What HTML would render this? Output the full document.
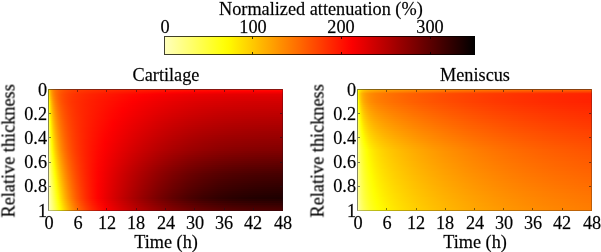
<!DOCTYPE html>
<html><head><meta charset="utf-8"><style>
html,body{margin:0;padding:0;background:#fff;}
body{width:601px;height:252px;position:relative;overflow:hidden;font-family:"Liberation Serif",serif;}
.tl{position:absolute;font-size:18.25px;line-height:21px;color:#000;white-space:nowrap;will-change:transform;-webkit-text-stroke:0.3px rgba(0,0,0,0.6)}
.hm{position:absolute;width:235px;height:122px;}
.bx{position:absolute;box-sizing:border-box;border:1px solid rgba(20,20,30,0.5);border-right-color:rgba(20,20,30,0.28);border-bottom-color:rgba(20,20,30,0.28);}
.cbx{border-color:rgba(0,0,0,0.75);}
.tk{position:absolute;background:rgba(20,20,30,0.55);}
.cbt{background:rgba(0,0,0,0.75);}
.ylab{transform:rotate(-90deg);}
</style></head><body>
<div class="hm" style="left:164px;top:36px;width:311px;height:19px;background:linear-gradient(90deg,#ffffbf 0.00%,#ffffab 2.08%,#ffff97 4.17%,#ffff83 6.25%,#ffff70 8.33%,#ffff5c 10.42%,#ffff48 12.50%,#ffff34 14.58%,#ffff20 16.67%,#ffff0c 18.75%,#fffa00 20.83%,#ffec00 22.92%,#ffdf00 25.00%,#ffd200 27.08%,#ffc500 29.17%,#ffb700 31.25%,#ffaa00 33.33%,#ff9d00 35.42%,#ff8f00 37.50%,#ff8200 39.58%,#ff7500 41.67%,#ff6800 43.75%,#ff5a00 45.83%,#ff4d00 47.92%,#ff4000 50.00%,#ff3200 52.08%,#ff2500 54.17%,#ff1800 56.25%,#ff0b00 58.33%,#fc0000 60.42%,#ef0000 62.50%,#e20000 64.58%,#d40000 66.67%,#c70000 68.75%,#ba0000 70.83%,#ad0000 72.92%,#9f0000 75.00%,#920000 77.08%,#850000 79.17%,#780000 81.25%,#6a0000 83.33%,#5d0000 85.42%,#500000 87.50%,#420000 89.58%,#350000 91.67%,#280000 93.75%,#1b0000 95.83%,#0d0000 97.92%,#000000 100.00%)"></div><div class="bx cbx" style="left:164px;top:36px;width:311px;height:19px"></div><div class="tk cbt" style="left:252px;top:37px;width:1px;height:2px"></div><div class="tk cbt" style="left:252px;top:52px;width:1px;height:2px"></div><div class="tk cbt" style="left:341px;top:37px;width:1px;height:2px"></div><div class="tk cbt" style="left:341px;top:52px;width:1px;height:2px"></div><div class="tk cbt" style="left:430px;top:37px;width:1px;height:2px"></div><div class="tk cbt" style="left:430px;top:52px;width:1px;height:2px"></div><div class="tl" style="left:145.40px;top:17px;width:40px;text-align:center">0</div><div class="tl" style="left:233.30px;top:17px;width:40px;text-align:center">100</div><div class="tl" style="left:321.00px;top:17px;width:40px;text-align:center">200</div><div class="tl" style="left:410.00px;top:17px;width:40px;text-align:center">300</div><div class="tl" style="left:219px;top:-1.5px;width:200px;text-align:center">Normalized attenuation (%)</div>
<div class="hm" style="left:48px;top:89px"><div style="height:1px;background:linear-gradient(90deg,#ffffbf 0.00%,#ffff02 0.21%,#ffdf00 0.43%,#ffca00 0.64%,#ffba00 0.85%,#ffae00 1.06%,#ffa300 1.28%,#ff9400 1.70%,#ff8700 2.13%,#ff7e00 2.55%,#ff7600 2.98%,#ff6f00 3.40%,#ff6500 4.26%,#ff5d00 5.11%,#ff5600 5.96%,#ff4f00 7.23%,#ff4900 8.51%,#ff4300 10.21%,#ff3f00 11.91%,#ff3a00 14.04%,#ff3700 16.17%,#ff3300 18.72%,#ff3000 21.28%,#ff2d00 24.26%,#ff2a00 27.66%,#ff2700 31.91%,#ff2400 36.17%,#ff2100 40.43%,#ff1e00 46.81%,#ff1b00 53.19%,#ff1800 59.57%,#ff1600 65.96%,#ff1500 72.34%,#ff1400 78.72%,#ff1300 85.11%,#ff1300 91.49%,#ff1300 97.87%,#ff1300 100.00%)"></div><div style="height:1px;background:linear-gradient(90deg,#ffffbf 0.00%,#ffff08 0.21%,#ffe300 0.43%,#ffcd00 0.64%,#ffbc00 0.85%,#ffb000 1.06%,#ffa500 1.28%,#ff9400 1.70%,#ff8800 2.13%,#ff7e00 2.55%,#ff7600 2.98%,#ff6f00 3.40%,#ff6400 4.26%,#ff5b00 5.11%,#ff5500 5.96%,#ff4d00 7.23%,#ff4700 8.51%,#ff4100 10.21%,#ff3c00 11.91%,#ff3700 14.04%,#ff3400 16.17%,#ff3000 18.72%,#ff2c00 21.28%,#ff2900 24.26%,#ff2600 27.66%,#ff2200 31.91%,#ff1e00 36.17%,#ff1b00 40.43%,#ff1600 46.81%,#ff1300 53.19%,#ff1000 59.57%,#ff0d00 65.96%,#ff0c00 72.34%,#ff0b00 78.72%,#ff0a00 85.11%,#ff0900 91.49%,#ff0900 97.87%,#ff0900 100.00%)"></div><div style="height:1px;background:linear-gradient(90deg,#ffffbf 0.00%,#ffff0e 0.21%,#ffe600 0.43%,#ffcf00 0.64%,#ffbf00 0.85%,#ffb200 1.06%,#ffa700 1.28%,#ff9500 1.70%,#ff8800 2.13%,#ff7e00 2.55%,#ff7500 2.98%,#ff6e00 3.40%,#ff6300 4.26%,#ff5a00 5.11%,#ff5300 5.96%,#ff4b00 7.23%,#ff4500 8.51%,#ff3e00 10.21%,#ff3900 11.91%,#ff3400 14.04%,#ff3000 16.17%,#ff2c00 18.72%,#ff2900 21.28%,#ff2500 24.26%,#ff2100 27.66%,#ff1c00 31.91%,#ff1800 36.17%,#ff1400 40.43%,#ff0f00 46.81%,#ff0b00 53.19%,#ff0700 59.57%,#ff0500 65.96%,#ff0300 72.34%,#ff0100 78.72%,#ff0000 85.11%,#ff0000 91.49%,#fe0000 97.87%,#fe0000 100.00%)"></div><div style="height:1px;background:linear-gradient(90deg,#ffffbf 0.00%,#ffff14 0.21%,#ffe900 0.43%,#ffd200 0.64%,#ffc100 0.85%,#ffb400 1.06%,#ffa800 1.28%,#ff9600 1.70%,#ff8900 2.13%,#ff7e00 2.55%,#ff7500 2.98%,#ff6d00 3.40%,#ff6200 4.26%,#ff5800 5.11%,#ff5100 5.96%,#ff4900 7.23%,#ff4200 8.51%,#ff3c00 10.21%,#ff3700 11.91%,#ff3100 14.04%,#ff2d00 16.17%,#ff2900 18.72%,#ff2500 21.28%,#ff2100 24.26%,#ff1c00 27.66%,#ff1700 31.91%,#ff1200 36.17%,#ff0e00 40.43%,#ff0800 46.81%,#ff0300 53.19%,#fe0000 59.57%,#fb0000 65.96%,#f80000 72.34%,#f70000 78.72%,#f60000 85.11%,#f50000 91.49%,#f40000 97.87%,#f40000 100.00%)"></div><div style="height:1px;background:linear-gradient(90deg,#ffffbf 0.00%,#ffff19 0.21%,#ffed00 0.43%,#ffd500 0.64%,#ffc400 0.85%,#ffb600 1.06%,#ffaa00 1.28%,#ff9800 1.70%,#ff8900 2.13%,#ff7e00 2.55%,#ff7500 2.98%,#ff6d00 3.40%,#ff6100 4.26%,#ff5700 5.11%,#ff5000 5.96%,#ff4700 7.23%,#ff4000 8.51%,#ff3900 10.21%,#ff3400 11.91%,#ff2e00 14.04%,#ff2a00 16.17%,#ff2500 18.72%,#ff2100 21.28%,#ff1c00 24.26%,#ff1800 27.66%,#ff1200 31.91%,#ff0d00 36.17%,#ff0800 40.43%,#ff0100 46.81%,#fa0000 53.19%,#f50000 59.57%,#f20000 65.96%,#ef0000 72.34%,#ed0000 78.72%,#ec0000 85.11%,#eb0000 91.49%,#eb0000 97.87%,#eb0000 100.00%)"></div><div style="height:1px;background:linear-gradient(90deg,#ffffbf 0.00%,#ffff1f 0.21%,#fff000 0.43%,#ffd900 0.64%,#ffc600 0.85%,#ffb800 1.06%,#ffac00 1.28%,#ff9900 1.70%,#ff8a00 2.13%,#ff7f00 2.55%,#ff7500 2.98%,#ff6d00 3.40%,#ff6000 4.26%,#ff5600 5.11%,#ff4e00 5.96%,#ff4500 7.23%,#ff3e00 8.51%,#ff3700 10.21%,#ff3100 11.91%,#ff2c00 14.04%,#ff2700 16.17%,#ff2200 18.72%,#ff1e00 21.28%,#ff1900 24.26%,#ff1400 27.66%,#ff0d00 31.91%,#ff0800 36.17%,#ff0200 40.43%,#fa0000 46.81%,#f30000 53.19%,#ee0000 59.57%,#ea0000 65.96%,#e70000 72.34%,#e50000 78.72%,#e40000 85.11%,#e30000 91.49%,#e20000 97.87%,#e20000 100.00%)"></div><div style="height:1px;background:linear-gradient(90deg,#ffffbf 0.00%,#ffff25 0.21%,#fff400 0.43%,#ffdc00 0.64%,#ffca00 0.85%,#ffbb00 1.06%,#ffaf00 1.28%,#ff9b00 1.70%,#ff8c00 2.13%,#ff8000 2.55%,#ff7600 2.98%,#ff6e00 3.40%,#ff6100 4.26%,#ff5600 5.11%,#ff4e00 5.96%,#ff4500 7.23%,#ff3e00 8.51%,#ff3700 10.21%,#ff3100 11.91%,#ff2b00 14.04%,#ff2600 16.17%,#ff2100 18.72%,#ff1d00 21.28%,#ff1800 24.26%,#ff1300 27.66%,#ff0c00 31.91%,#ff0600 36.17%,#ff0100 40.43%,#f80000 46.81%,#f10000 53.19%,#ec0000 59.57%,#e80000 65.96%,#e50000 72.34%,#e30000 78.72%,#e10000 85.11%,#e10000 91.49%,#e00000 97.87%,#e00000 100.00%)"></div><div style="height:1px;background:linear-gradient(90deg,#ffffbf 0.00%,#ffff2c 0.21%,#fff900 0.43%,#ffe000 0.64%,#ffce00 0.85%,#ffbf00 1.06%,#ffb200 1.28%,#ff9e00 1.70%,#ff8e00 2.13%,#ff8200 2.55%,#ff7800 2.98%,#ff6f00 3.40%,#ff6100 4.26%,#ff5700 5.11%,#ff4f00 5.96%,#ff4500 7.23%,#ff3e00 8.51%,#ff3600 10.21%,#ff3000 11.91%,#ff2b00 14.04%,#ff2600 16.17%,#ff2100 18.72%,#ff1c00 21.28%,#ff1700 24.26%,#ff1200 27.66%,#ff0b00 31.91%,#ff0500 36.17%,#fe0000 40.43%,#f60000 46.81%,#f00000 53.19%,#ea0000 59.57%,#e60000 65.96%,#e30000 72.34%,#e10000 78.72%,#df0000 85.11%,#de0000 91.49%,#de0000 97.87%,#de0000 100.00%)"></div><div style="height:2px;background:linear-gradient(90deg,#ffffbf 0.00%,#ffff35 0.21%,#ffff00 0.43%,#ffe600 0.64%,#ffd300 0.85%,#ffc400 1.06%,#ffb700 1.28%,#ffa200 1.70%,#ff9200 2.13%,#ff8500 2.55%,#ff7a00 2.98%,#ff7100 3.40%,#ff6200 4.26%,#ff5700 5.11%,#ff4f00 5.96%,#ff4500 7.23%,#ff3d00 8.51%,#ff3600 10.21%,#ff3000 11.91%,#ff2a00 14.04%,#ff2500 16.17%,#ff2000 18.72%,#ff1b00 21.28%,#ff1600 24.26%,#ff1000 27.66%,#ff0a00 31.91%,#ff0300 36.17%,#fc0000 40.43%,#f40000 46.81%,#ed0000 53.19%,#e70000 59.57%,#e30000 65.96%,#e00000 72.34%,#dd0000 78.72%,#dc0000 85.11%,#db0000 91.49%,#da0000 97.87%,#da0000 100.00%)"></div><div style="height:2px;background:linear-gradient(90deg,#ffffbf 0.00%,#ffff40 0.21%,#ffff0b 0.43%,#ffee00 0.64%,#ffda00 0.85%,#ffca00 1.06%,#ffbd00 1.28%,#ffa700 1.70%,#ff9600 2.13%,#ff8800 2.55%,#ff7d00 2.98%,#ff7300 3.40%,#ff6400 4.26%,#ff5800 5.11%,#ff4f00 5.96%,#ff4500 7.23%,#ff3d00 8.51%,#ff3500 10.21%,#ff2f00 11.91%,#ff2900 14.04%,#ff2300 16.17%,#ff1e00 18.72%,#ff1900 21.28%,#ff1400 24.26%,#ff0f00 27.66%,#ff0800 31.91%,#ff0100 36.17%,#fa0000 40.43%,#f10000 46.81%,#ea0000 53.19%,#e40000 59.57%,#df0000 65.96%,#dc0000 72.34%,#d90000 78.72%,#d80000 85.11%,#d70000 91.49%,#d60000 97.87%,#d60000 100.00%)"></div><div style="height:2px;background:linear-gradient(90deg,#ffffbf 0.00%,#ffff4a 0.21%,#ffff16 0.43%,#fff500 0.64%,#ffe100 0.85%,#ffd100 1.06%,#ffc300 1.28%,#ffac00 1.70%,#ff9b00 2.13%,#ff8c00 2.55%,#ff8000 2.98%,#ff7600 3.40%,#ff6600 4.26%,#ff5a00 5.11%,#ff5000 5.96%,#ff4500 7.23%,#ff3d00 8.51%,#ff3400 10.21%,#ff2e00 11.91%,#ff2800 14.04%,#ff2300 16.17%,#ff1d00 18.72%,#ff1800 21.28%,#ff1300 24.26%,#ff0d00 27.66%,#ff0600 31.91%,#fe0000 36.17%,#f70000 40.43%,#ee0000 46.81%,#e60000 53.19%,#e00000 59.57%,#db0000 65.96%,#d80000 72.34%,#d50000 78.72%,#d30000 85.11%,#d20000 91.49%,#d20000 97.87%,#d20000 100.00%)"></div><div style="height:2px;background:linear-gradient(90deg,#ffffbf 0.00%,#ffff50 0.21%,#ffff1d 0.43%,#fffa00 0.64%,#ffe600 0.85%,#ffd600 1.06%,#ffc800 1.28%,#ffb100 1.70%,#ff9f00 2.13%,#ff9000 2.55%,#ff8400 2.98%,#ff7a00 3.40%,#ff6900 4.26%,#ff5c00 5.11%,#ff5200 5.96%,#ff4700 7.23%,#ff3e00 8.51%,#ff3500 10.21%,#ff2f00 11.91%,#ff2800 14.04%,#ff2200 16.17%,#ff1d00 18.72%,#ff1800 21.28%,#ff1200 24.26%,#ff0c00 27.66%,#ff0400 31.91%,#fc0000 36.17%,#f50000 40.43%,#ec0000 46.81%,#e40000 53.19%,#dd0000 59.57%,#d80000 65.96%,#d50000 72.34%,#d20000 78.72%,#d00000 85.11%,#cf0000 91.49%,#ce0000 97.87%,#ce0000 100.00%)"></div><div style="height:2px;background:linear-gradient(90deg,#ffffbf 0.00%,#ffff55 0.21%,#ffff24 0.43%,#fffe00 0.64%,#ffeb00 0.85%,#ffdb00 1.06%,#ffcd00 1.28%,#ffb600 1.70%,#ffa400 2.13%,#ff9500 2.55%,#ff8800 2.98%,#ff7d00 3.40%,#ff6c00 4.26%,#ff5f00 5.11%,#ff5500 5.96%,#ff4900 7.23%,#ff3f00 8.51%,#ff3600 10.21%,#ff2f00 11.91%,#ff2800 14.04%,#ff2200 16.17%,#ff1c00 18.72%,#ff1700 21.28%,#ff1100 24.26%,#ff0b00 27.66%,#ff0300 31.91%,#fa0000 36.17%,#f30000 40.43%,#ea0000 46.81%,#e10000 53.19%,#db0000 59.57%,#d50000 65.96%,#d20000 72.34%,#cf0000 78.72%,#cd0000 85.11%,#cc0000 91.49%,#cb0000 97.87%,#cb0000 100.00%)"></div><div style="height:2px;background:linear-gradient(90deg,#ffffbf 0.00%,#ffff5a 0.21%,#ffff2a 0.43%,#ffff06 0.64%,#fff000 0.85%,#ffdf00 1.06%,#ffd100 1.28%,#ffba00 1.70%,#ffa800 2.13%,#ff9900 2.55%,#ff8c00 2.98%,#ff8100 3.40%,#ff6f00 4.26%,#ff6200 5.11%,#ff5700 5.96%,#ff4a00 7.23%,#ff4100 8.51%,#ff3700 10.21%,#ff2f00 11.91%,#ff2800 14.04%,#ff2200 16.17%,#ff1c00 18.72%,#ff1600 21.28%,#ff1000 24.26%,#ff0900 27.66%,#ff0100 31.91%,#f90000 36.17%,#f10000 40.43%,#e70000 46.81%,#df0000 53.19%,#d80000 59.57%,#d20000 65.96%,#ce0000 72.34%,#cc0000 78.72%,#ca0000 85.11%,#c90000 91.49%,#c80000 97.87%,#c80000 100.00%)"></div><div style="height:2px;background:linear-gradient(90deg,#ffffbf 0.00%,#ffff5f 0.21%,#ffff30 0.43%,#ffff0d 0.64%,#fff400 0.85%,#ffe400 1.06%,#ffd600 1.28%,#ffbf00 1.70%,#ffac00 2.13%,#ff9d00 2.55%,#ff9000 2.98%,#ff8400 3.40%,#ff7200 4.26%,#ff6400 5.11%,#ff5900 5.96%,#ff4c00 7.23%,#ff4200 8.51%,#ff3800 10.21%,#ff3000 11.91%,#ff2800 14.04%,#ff2200 16.17%,#ff1b00 18.72%,#ff1600 21.28%,#ff0f00 24.26%,#ff0800 27.66%,#ff0000 31.91%,#f70000 36.17%,#ef0000 40.43%,#e50000 46.81%,#dc0000 53.19%,#d50000 59.57%,#cf0000 65.96%,#cb0000 72.34%,#c90000 78.72%,#c70000 85.11%,#c50000 91.49%,#c50000 97.87%,#c40000 100.00%)"></div><div style="height:2px;background:linear-gradient(90deg,#ffffbf 0.00%,#ffff64 0.21%,#ffff36 0.43%,#ffff13 0.64%,#fff900 0.85%,#ffe800 1.06%,#ffda00 1.28%,#ffc300 1.70%,#ffb000 2.13%,#ffa000 2.55%,#ff9300 2.98%,#ff8800 3.40%,#ff7500 4.26%,#ff6700 5.11%,#ff5b00 5.96%,#ff4e00 7.23%,#ff4300 8.51%,#ff3900 10.21%,#ff3000 11.91%,#ff2800 14.04%,#ff2200 16.17%,#ff1b00 18.72%,#ff1500 21.28%,#ff0e00 24.26%,#ff0700 27.66%,#fe0000 31.91%,#f50000 36.17%,#ed0000 40.43%,#e30000 46.81%,#da0000 53.19%,#d20000 59.57%,#cd0000 65.96%,#c80000 72.34%,#c50000 78.72%,#c30000 85.11%,#c20000 91.49%,#c10000 97.87%,#c10000 100.00%)"></div><div style="height:2px;background:linear-gradient(90deg,#ffffbf 0.00%,#ffff68 0.21%,#ffff3b 0.43%,#ffff19 0.64%,#fffd00 0.85%,#ffed00 1.06%,#ffdf00 1.28%,#ffc700 1.70%,#ffb400 2.13%,#ffa400 2.55%,#ff9700 2.98%,#ff8b00 3.40%,#ff7800 4.26%,#ff6900 5.11%,#ff5d00 5.96%,#ff4f00 7.23%,#ff4400 8.51%,#ff3900 10.21%,#ff3100 11.91%,#ff2800 14.04%,#ff2200 16.17%,#ff1b00 18.72%,#ff1400 21.28%,#ff0d00 24.26%,#ff0600 27.66%,#fc0000 31.91%,#f40000 36.17%,#ec0000 40.43%,#e10000 46.81%,#d70000 53.19%,#d00000 59.57%,#ca0000 65.96%,#c50000 72.34%,#c20000 78.72%,#c00000 85.11%,#bf0000 91.49%,#be0000 97.87%,#be0000 100.00%)"></div><div style="height:2px;background:linear-gradient(90deg,#ffffbf 0.00%,#ffff6d 0.21%,#ffff41 0.43%,#ffff1f 0.64%,#ffff03 0.85%,#fff100 1.06%,#ffe300 1.28%,#ffcb00 1.70%,#ffb800 2.13%,#ffa800 2.55%,#ff9a00 2.98%,#ff8e00 3.40%,#ff7b00 4.26%,#ff6c00 5.11%,#ff5f00 5.96%,#ff5100 7.23%,#ff4600 8.51%,#ff3a00 10.21%,#ff3100 11.91%,#ff2900 14.04%,#ff2100 16.17%,#ff1a00 18.72%,#ff1400 21.28%,#ff0c00 24.26%,#ff0500 27.66%,#fb0000 31.91%,#f20000 36.17%,#ea0000 40.43%,#de0000 46.81%,#d50000 53.19%,#cd0000 59.57%,#c70000 65.96%,#c20000 72.34%,#bf0000 78.72%,#bd0000 85.11%,#bc0000 91.49%,#bb0000 97.87%,#bb0000 100.00%)"></div><div style="height:2px;background:linear-gradient(90deg,#ffffbf 0.00%,#ffff70 0.21%,#ffff46 0.43%,#ffff24 0.64%,#ffff09 0.85%,#fff500 1.06%,#ffe700 1.28%,#ffcf00 1.70%,#ffbc00 2.13%,#ffac00 2.55%,#ff9e00 2.98%,#ff9200 3.40%,#ff7e00 4.26%,#ff6e00 5.11%,#ff6100 5.96%,#ff5200 7.23%,#ff4700 8.51%,#ff3b00 10.21%,#ff3200 11.91%,#ff2900 14.04%,#ff2100 16.17%,#ff1a00 18.72%,#ff1300 21.28%,#ff0c00 24.26%,#ff0400 27.66%,#f90000 31.91%,#f00000 36.17%,#e80000 40.43%,#dc0000 46.81%,#d20000 53.19%,#ca0000 59.57%,#c40000 65.96%,#bf0000 72.34%,#bc0000 78.72%,#ba0000 85.11%,#b80000 91.49%,#b70000 97.87%,#b70000 100.00%)"></div><div style="height:2px;background:linear-gradient(90deg,#ffffbf 0.00%,#ffff74 0.21%,#ffff4a 0.43%,#ffff2a 0.64%,#ffff0e 0.85%,#fff900 1.06%,#ffeb00 1.28%,#ffd300 1.70%,#ffc000 2.13%,#ffaf00 2.55%,#ffa100 2.98%,#ff9500 3.40%,#ff8100 4.26%,#ff7100 5.11%,#ff6400 5.96%,#ff5400 7.23%,#ff4800 8.51%,#ff3c00 10.21%,#ff3200 11.91%,#ff2900 14.04%,#ff2100 16.17%,#ff1900 18.72%,#ff1200 21.28%,#ff0b00 24.26%,#ff0200 27.66%,#f80000 31.91%,#ee0000 36.17%,#e60000 40.43%,#da0000 46.81%,#cf0000 53.19%,#c70000 59.57%,#c10000 65.96%,#bc0000 72.34%,#b90000 78.72%,#b60000 85.11%,#b50000 91.49%,#b40000 97.87%,#b40000 100.00%)"></div><div style="height:2px;background:linear-gradient(90deg,#ffffbf 0.00%,#ffff78 0.21%,#ffff4f 0.43%,#ffff2f 0.64%,#ffff14 0.85%,#fffd00 1.06%,#ffef00 1.28%,#ffd700 1.70%,#ffc400 2.13%,#ffb300 2.55%,#ffa500 2.98%,#ff9800 3.40%,#ff8400 4.26%,#ff7300 5.11%,#ff6600 5.96%,#ff5600 7.23%,#ff4900 8.51%,#ff3d00 10.21%,#ff3300 11.91%,#ff2900 14.04%,#ff2100 16.17%,#ff1900 18.72%,#ff1100 21.28%,#ff0a00 24.26%,#ff0100 27.66%,#f60000 31.91%,#ed0000 36.17%,#e40000 40.43%,#d70000 46.81%,#cd0000 53.19%,#c40000 59.57%,#be0000 65.96%,#b90000 72.34%,#b60000 78.72%,#b30000 85.11%,#b20000 91.49%,#b10000 97.87%,#b10000 100.00%)"></div><div style="height:2px;background:linear-gradient(90deg,#ffffbf 0.00%,#ffff7b 0.21%,#ffff53 0.43%,#ffff34 0.64%,#ffff19 0.85%,#ffff02 1.06%,#fff200 1.28%,#ffdb00 1.70%,#ffc700 2.13%,#ffb600 2.55%,#ffa800 2.98%,#ff9b00 3.40%,#ff8600 4.26%,#ff7500 5.11%,#ff6800 5.96%,#ff5700 7.23%,#ff4b00 8.51%,#ff3d00 10.21%,#ff3300 11.91%,#ff2900 14.04%,#ff2100 16.17%,#ff1800 18.72%,#ff1100 21.28%,#ff0900 24.26%,#ff0000 27.66%,#f50000 31.91%,#eb0000 36.17%,#e20000 40.43%,#d50000 46.81%,#ca0000 53.19%,#c20000 59.57%,#bb0000 65.96%,#b60000 72.34%,#b20000 78.72%,#b00000 85.11%,#af0000 91.49%,#ae0000 97.87%,#ad0000 100.00%)"></div><div style="height:2px;background:linear-gradient(90deg,#ffffbf 0.00%,#ffff7e 0.21%,#ffff58 0.43%,#ffff39 0.64%,#ffff1e 0.85%,#ffff07 1.06%,#fff600 1.28%,#ffdf00 1.70%,#ffcb00 2.13%,#ffba00 2.55%,#ffab00 2.98%,#ff9f00 3.40%,#ff8900 4.26%,#ff7800 5.11%,#ff6a00 5.96%,#ff5900 7.23%,#ff4c00 8.51%,#ff3e00 10.21%,#ff3400 11.91%,#ff2900 14.04%,#ff2100 16.17%,#ff1800 18.72%,#ff1000 21.28%,#ff0800 24.26%,#fe0000 27.66%,#f30000 31.91%,#e90000 36.17%,#e00000 40.43%,#d30000 46.81%,#c80000 53.19%,#bf0000 59.57%,#b80000 65.96%,#b30000 72.34%,#af0000 78.72%,#ad0000 85.11%,#ab0000 91.49%,#aa0000 97.87%,#aa0000 100.00%)"></div><div style="height:2px;background:linear-gradient(90deg,#ffffbf 0.00%,#ffff81 0.21%,#ffff5c 0.43%,#ffff3d 0.64%,#ffff23 0.85%,#ffff0c 1.06%,#fffa00 1.28%,#ffe200 1.70%,#ffce00 2.13%,#ffbd00 2.55%,#ffaf00 2.98%,#ffa200 3.40%,#ff8c00 4.26%,#ff7a00 5.11%,#ff6c00 5.96%,#ff5b00 7.23%,#ff4d00 8.51%,#ff3f00 10.21%,#ff3400 11.91%,#ff2900 14.04%,#ff2000 16.17%,#ff1700 18.72%,#ff0f00 21.28%,#ff0700 24.26%,#fd0000 27.66%,#f20000 31.91%,#e80000 36.17%,#de0000 40.43%,#d10000 46.81%,#c50000 53.19%,#bc0000 59.57%,#b50000 65.96%,#b00000 72.34%,#ac0000 78.72%,#aa0000 85.11%,#a80000 91.49%,#a70000 97.87%,#a70000 100.00%)"></div><div style="height:2px;background:linear-gradient(90deg,#ffffbf 0.00%,#ffff84 0.21%,#ffff60 0.43%,#ffff42 0.64%,#ffff28 0.85%,#ffff12 1.06%,#fffd00 1.28%,#ffe600 1.70%,#ffd200 2.13%,#ffc100 2.55%,#ffb200 2.98%,#ffa500 3.40%,#ff8f00 4.26%,#ff7d00 5.11%,#ff6e00 5.96%,#ff5c00 7.23%,#ff4e00 8.51%,#ff4000 10.21%,#ff3500 11.91%,#ff2900 14.04%,#ff2000 16.17%,#ff1700 18.72%,#ff0f00 21.28%,#ff0600 24.26%,#fc0000 27.66%,#f00000 31.91%,#e60000 36.17%,#dc0000 40.43%,#ce0000 46.81%,#c30000 53.19%,#b90000 59.57%,#b20000 65.96%,#ad0000 72.34%,#a90000 78.72%,#a60000 85.11%,#a50000 91.49%,#a40000 97.87%,#a30000 100.00%)"></div><div style="height:2px;background:linear-gradient(90deg,#ffffbf 0.00%,#ffff87 0.21%,#ffff63 0.43%,#ffff46 0.64%,#ffff2d 0.85%,#ffff16 1.06%,#ffff02 1.28%,#ffe900 1.70%,#ffd500 2.13%,#ffc400 2.55%,#ffb500 2.98%,#ffa800 3.40%,#ff9100 4.26%,#ff7f00 5.11%,#ff7000 5.96%,#ff5e00 7.23%,#ff5000 8.51%,#ff4100 10.21%,#ff3500 11.91%,#ff2900 14.04%,#ff2000 16.17%,#ff1600 18.72%,#ff0e00 21.28%,#ff0500 24.26%,#fa0000 27.66%,#ef0000 31.91%,#e40000 36.17%,#da0000 40.43%,#cc0000 46.81%,#c00000 53.19%,#b70000 59.57%,#af0000 65.96%,#aa0000 72.34%,#a60000 78.72%,#a30000 85.11%,#a10000 91.49%,#a00000 97.87%,#a00000 100.00%)"></div><div style="height:2px;background:linear-gradient(90deg,#ffffbf 0.00%,#ffff8a 0.21%,#ffff67 0.43%,#ffff4a 0.64%,#ffff31 0.85%,#ffff1b 1.06%,#ffff07 1.28%,#ffed00 1.70%,#ffd900 2.13%,#ffc700 2.55%,#ffb800 2.98%,#ffab00 3.40%,#ff9400 4.26%,#ff8200 5.11%,#ff7200 5.96%,#ff6000 7.23%,#ff5100 8.51%,#ff4200 10.21%,#ff3600 11.91%,#ff2a00 14.04%,#ff2000 16.17%,#ff1600 18.72%,#ff0d00 21.28%,#ff0400 24.26%,#f90000 27.66%,#ee0000 31.91%,#e20000 36.17%,#d80000 40.43%,#ca0000 46.81%,#be0000 53.19%,#b40000 59.57%,#ac0000 65.96%,#a70000 72.34%,#a30000 78.72%,#a00000 85.11%,#9e0000 91.49%,#9d0000 97.87%,#9d0000 100.00%)"></div><div style="height:2px;background:linear-gradient(90deg,#ffffbf 0.00%,#ffff8c 0.21%,#ffff6b 0.43%,#ffff4e 0.64%,#ffff36 0.85%,#ffff20 1.06%,#ffff0c 1.28%,#fff000 1.70%,#ffdc00 2.13%,#ffcb00 2.55%,#ffbb00 2.98%,#ffae00 3.40%,#ff9700 4.26%,#ff8400 5.11%,#ff7400 5.96%,#ff6100 7.23%,#ff5200 8.51%,#ff4200 10.21%,#ff3600 11.91%,#ff2a00 14.04%,#ff2000 16.17%,#ff1600 18.72%,#ff0d00 21.28%,#ff0300 24.26%,#f80000 27.66%,#ec0000 31.91%,#e10000 36.17%,#d60000 40.43%,#c80000 46.81%,#bb0000 53.19%,#b10000 59.57%,#a90000 65.96%,#a30000 72.34%,#9f0000 78.72%,#9d0000 85.11%,#9b0000 91.49%,#9a0000 97.87%,#9a0000 100.00%)"></div><div style="height:2px;background:linear-gradient(90deg,#ffffbf 0.00%,#ffff8f 0.21%,#ffff6e 0.43%,#ffff52 0.64%,#ffff3a 0.85%,#ffff25 1.06%,#ffff11 1.28%,#fff300 1.70%,#ffdf00 2.13%,#ffce00 2.55%,#ffbf00 2.98%,#ffb100 3.40%,#ff9a00 4.26%,#ff8600 5.11%,#ff7700 5.96%,#ff6300 7.23%,#ff5400 8.51%,#ff4300 10.21%,#ff3700 11.91%,#ff2a00 14.04%,#ff2000 16.17%,#ff1500 18.72%,#ff0c00 21.28%,#ff0200 24.26%,#f70000 27.66%,#eb0000 31.91%,#df0000 36.17%,#d40000 40.43%,#c50000 46.81%,#b90000 53.19%,#ae0000 59.57%,#a60000 65.96%,#a00000 72.34%,#9c0000 78.72%,#9a0000 85.11%,#980000 91.49%,#970000 97.87%,#960000 100.00%)"></div><div style="height:2px;background:linear-gradient(90deg,#ffffbf 0.00%,#ffff91 0.21%,#ffff71 0.43%,#ffff56 0.64%,#ffff3e 0.85%,#ffff29 1.06%,#ffff16 1.28%,#fff600 1.70%,#ffe300 2.13%,#ffd100 2.55%,#ffc200 2.98%,#ffb400 3.40%,#ff9c00 4.26%,#ff8900 5.11%,#ff7900 5.96%,#ff6500 7.23%,#ff5500 8.51%,#ff4400 10.21%,#ff3700 11.91%,#ff2a00 14.04%,#ff1f00 16.17%,#ff1500 18.72%,#ff0b00 21.28%,#ff0100 24.26%,#f60000 27.66%,#e90000 31.91%,#dd0000 36.17%,#d20000 40.43%,#c30000 46.81%,#b60000 53.19%,#ab0000 59.57%,#a30000 65.96%,#9d0000 72.34%,#990000 78.72%,#960000 85.11%,#940000 91.49%,#930000 97.87%,#930000 100.00%)"></div><div style="height:2px;background:linear-gradient(90deg,#ffffbf 0.00%,#ffff93 0.21%,#ffff74 0.43%,#ffff5a 0.64%,#ffff42 0.85%,#ffff2d 1.06%,#ffff1a 1.28%,#fffa00 1.70%,#ffe600 2.13%,#ffd400 2.55%,#ffc500 2.98%,#ffb700 3.40%,#ff9f00 4.26%,#ff8b00 5.11%,#ff7b00 5.96%,#ff6600 7.23%,#ff5600 8.51%,#ff4500 10.21%,#ff3800 11.91%,#ff2a00 14.04%,#ff1f00 16.17%,#ff1400 18.72%,#ff0b00 21.28%,#ff0000 24.26%,#f50000 27.66%,#e80000 31.91%,#dc0000 36.17%,#d00000 40.43%,#c10000 46.81%,#b30000 53.19%,#a90000 59.57%,#a00000 65.96%,#9a0000 72.34%,#960000 78.72%,#930000 85.11%,#910000 91.49%,#900000 97.87%,#900000 100.00%)"></div><div style="height:2px;background:linear-gradient(90deg,#ffffbf 0.00%,#ffff95 0.21%,#ffff77 0.43%,#ffff5d 0.64%,#ffff46 0.85%,#ffff32 1.06%,#ffff1f 1.28%,#fffd00 1.70%,#ffe900 2.13%,#ffd700 2.55%,#ffc800 2.98%,#ffba00 3.40%,#ffa200 4.26%,#ff8e00 5.11%,#ff7d00 5.96%,#ff6800 7.23%,#ff5800 8.51%,#ff4600 10.21%,#ff3800 11.91%,#ff2a00 14.04%,#ff1f00 16.17%,#ff1400 18.72%,#ff0a00 21.28%,#fe0000 24.26%,#f30000 27.66%,#e60000 31.91%,#da0000 36.17%,#ce0000 40.43%,#be0000 46.81%,#b10000 53.19%,#a60000 59.57%,#9d0000 65.96%,#970000 72.34%,#930000 78.72%,#900000 85.11%,#8e0000 91.49%,#8d0000 97.87%,#8c0000 100.00%)"></div><div style="height:2px;background:linear-gradient(90deg,#ffffbf 0.00%,#ffff97 0.21%,#ffff7a 0.43%,#ffff61 0.64%,#ffff4a 0.85%,#ffff36 1.06%,#ffff23 1.28%,#ffff01 1.70%,#ffec00 2.13%,#ffdb00 2.55%,#ffcb00 2.98%,#ffbd00 3.40%,#ffa400 4.26%,#ff9000 5.11%,#ff7f00 5.96%,#ff6a00 7.23%,#ff5900 8.51%,#ff4700 10.21%,#ff3900 11.91%,#ff2b00 14.04%,#ff1f00 16.17%,#ff1300 18.72%,#ff0900 21.28%,#fe0000 24.26%,#f20000 27.66%,#e50000 31.91%,#d80000 36.17%,#cc0000 40.43%,#bc0000 46.81%,#ae0000 53.19%,#a30000 59.57%,#9b0000 65.96%,#940000 72.34%,#900000 78.72%,#8d0000 85.11%,#8b0000 91.49%,#890000 97.87%,#890000 100.00%)"></div><div style="height:2px;background:linear-gradient(90deg,#ffffbf 0.00%,#ffff99 0.21%,#ffff7d 0.43%,#ffff64 0.64%,#ffff4e 0.85%,#ffff3a 1.06%,#ffff27 1.28%,#ffff06 1.70%,#ffef00 2.13%,#ffde00 2.55%,#ffce00 2.98%,#ffc000 3.40%,#ffa700 4.26%,#ff9300 5.11%,#ff8100 5.96%,#ff6c00 7.23%,#ff5a00 8.51%,#ff4800 10.21%,#ff3900 11.91%,#ff2b00 14.04%,#ff1f00 16.17%,#ff1300 18.72%,#ff0900 21.28%,#fd0000 24.26%,#f10000 27.66%,#e30000 31.91%,#d60000 36.17%,#ca0000 40.43%,#ba0000 46.81%,#ac0000 53.19%,#a00000 59.57%,#980000 65.96%,#910000 72.34%,#8c0000 78.72%,#890000 85.11%,#870000 91.49%,#860000 97.87%,#860000 100.00%)"></div><div style="height:2px;background:linear-gradient(90deg,#ffffbf 0.00%,#ffff9b 0.21%,#ffff7f 0.43%,#ffff67 0.64%,#ffff52 0.85%,#ffff3e 1.06%,#ffff2b 1.28%,#ffff0a 1.70%,#fff200 2.13%,#ffe100 2.55%,#ffd100 2.98%,#ffc300 3.40%,#ffaa00 4.26%,#ff9500 5.11%,#ff8300 5.96%,#ff6d00 7.23%,#ff5c00 8.51%,#ff4900 10.21%,#ff3a00 11.91%,#ff2b00 14.04%,#ff1f00 16.17%,#ff1300 18.72%,#ff0800 21.28%,#fc0000 24.26%,#f00000 27.66%,#e20000 31.91%,#d50000 36.17%,#c80000 40.43%,#b80000 46.81%,#a90000 53.19%,#9e0000 59.57%,#950000 65.96%,#8e0000 72.34%,#890000 78.72%,#860000 85.11%,#840000 91.49%,#830000 97.87%,#830000 100.00%)"></div><div style="height:2px;background:linear-gradient(90deg,#ffffbf 0.00%,#ffff9d 0.21%,#ffff83 0.43%,#ffff6c 0.64%,#ffff57 0.85%,#ffff43 1.06%,#ffff31 1.28%,#ffff10 1.70%,#fff600 2.13%,#ffe500 2.55%,#ffd500 2.98%,#ffc700 3.40%,#ffae00 4.26%,#ff9800 5.11%,#ff8600 5.96%,#ff7000 7.23%,#ff5e00 8.51%,#ff4a00 10.21%,#ff3b00 11.91%,#ff2c00 14.04%,#ff1f00 16.17%,#ff1200 18.72%,#ff0700 21.28%,#fb0000 24.26%,#ef0000 27.66%,#e00000 31.91%,#d30000 36.17%,#c60000 40.43%,#b40000 46.81%,#a60000 53.19%,#9a0000 59.57%,#900000 65.96%,#890000 72.34%,#850000 78.72%,#810000 85.11%,#7f0000 91.49%,#7e0000 97.87%,#7e0000 100.00%)"></div><div style="height:2px;background:linear-gradient(90deg,#ffffbf 0.00%,#ffffa0 0.21%,#ffff86 0.43%,#ffff70 0.64%,#ffff5b 0.85%,#ffff48 1.06%,#ffff37 1.28%,#ffff16 1.70%,#fffa00 2.13%,#ffe900 2.55%,#ffd900 2.98%,#ffcb00 3.40%,#ffb100 4.26%,#ff9c00 5.11%,#ff8a00 5.96%,#ff7300 7.23%,#ff6000 8.51%,#ff4c00 10.21%,#ff3c00 11.91%,#ff2c00 14.04%,#ff1f00 16.17%,#ff1200 18.72%,#ff0700 21.28%,#fa0000 24.26%,#ed0000 27.66%,#de0000 31.91%,#d00000 36.17%,#c30000 40.43%,#b10000 46.81%,#a20000 53.19%,#960000 59.57%,#8c0000 65.96%,#850000 72.34%,#800000 78.72%,#7c0000 85.11%,#7a0000 91.49%,#790000 97.87%,#790000 100.00%)"></div><div style="height:2px;background:linear-gradient(90deg,#ffffbf 0.00%,#ffffa2 0.21%,#ffff8a 0.43%,#ffff74 0.64%,#ffff60 0.85%,#ffff4d 1.06%,#ffff3c 1.28%,#ffff1c 1.70%,#fffe00 2.13%,#ffed00 2.55%,#ffdd00 2.98%,#ffcf00 3.40%,#ffb500 4.26%,#ff9f00 5.11%,#ff8d00 5.96%,#ff7500 7.23%,#ff6200 8.51%,#ff4e00 10.21%,#ff3d00 11.91%,#ff2d00 14.04%,#ff1f00 16.17%,#ff1200 18.72%,#ff0600 21.28%,#f90000 24.26%,#ec0000 27.66%,#dd0000 31.91%,#ce0000 36.17%,#c10000 40.43%,#ae0000 46.81%,#9e0000 53.19%,#910000 59.57%,#880000 65.96%,#800000 72.34%,#7b0000 78.72%,#780000 85.11%,#750000 91.49%,#740000 97.87%,#740000 100.00%)"></div><div style="height:2px;background:linear-gradient(90deg,#ffffbf 0.00%,#ffffa4 0.21%,#ffff8d 0.43%,#ffff78 0.64%,#ffff64 0.85%,#ffff52 1.06%,#ffff41 1.28%,#ffff21 1.70%,#ffff05 2.13%,#fff100 2.55%,#ffe100 2.98%,#ffd300 3.40%,#ffb900 4.26%,#ffa300 5.11%,#ff9000 5.96%,#ff7800 7.23%,#ff6400 8.51%,#ff4f00 10.21%,#ff3f00 11.91%,#ff2e00 14.04%,#ff2000 16.17%,#ff1200 18.72%,#ff0600 21.28%,#f80000 24.26%,#eb0000 27.66%,#db0000 31.91%,#cc0000 36.17%,#be0000 40.43%,#ab0000 46.81%,#9b0000 53.19%,#8d0000 59.57%,#830000 65.96%,#7c0000 72.34%,#760000 78.72%,#730000 85.11%,#700000 91.49%,#6f0000 97.87%,#6f0000 100.00%)"></div><div style="height:2px;background:linear-gradient(90deg,#ffffbf 0.00%,#ffffa6 0.21%,#ffff90 0.43%,#ffff7c 0.64%,#ffff69 0.85%,#ffff57 1.06%,#ffff46 1.28%,#ffff27 1.70%,#ffff0b 2.13%,#fff500 2.55%,#ffe500 2.98%,#ffd700 3.40%,#ffbd00 4.26%,#ffa600 5.11%,#ff9300 5.96%,#ff7b00 7.23%,#ff6700 8.51%,#ff5100 10.21%,#ff4000 11.91%,#ff2e00 14.04%,#ff2000 16.17%,#ff1200 18.72%,#ff0500 21.28%,#f70000 24.26%,#e90000 27.66%,#d90000 31.91%,#ca0000 36.17%,#bc0000 40.43%,#a80000 46.81%,#970000 53.19%,#890000 59.57%,#7f0000 65.96%,#770000 72.34%,#720000 78.72%,#6e0000 85.11%,#6b0000 91.49%,#6a0000 97.87%,#6a0000 100.00%)"></div><div style="height:2px;background:linear-gradient(90deg,#ffffbf 0.00%,#ffffa7 0.21%,#ffff92 0.43%,#ffff7f 0.64%,#ffff6d 0.85%,#ffff5b 1.06%,#ffff4b 1.28%,#ffff2c 1.70%,#ffff10 2.13%,#fff900 2.55%,#ffe900 2.98%,#ffda00 3.40%,#ffc000 4.26%,#ffaa00 5.11%,#ff9600 5.96%,#ff7d00 7.23%,#ff6900 8.51%,#ff5300 10.21%,#ff4100 11.91%,#ff2f00 14.04%,#ff2000 16.17%,#ff1200 18.72%,#ff0500 21.28%,#f60000 24.26%,#e80000 27.66%,#d80000 31.91%,#c80000 36.17%,#b90000 40.43%,#a50000 46.81%,#930000 53.19%,#850000 59.57%,#7a0000 65.96%,#720000 72.34%,#6d0000 78.72%,#690000 85.11%,#670000 91.49%,#650000 97.87%,#650000 100.00%)"></div><div style="height:2px;background:linear-gradient(90deg,#ffffbf 0.00%,#ffffa9 0.21%,#ffff95 0.43%,#ffff82 0.64%,#ffff71 0.85%,#ffff60 1.06%,#ffff50 1.28%,#ffff32 1.70%,#ffff16 2.13%,#fffd00 2.55%,#ffed00 2.98%,#ffde00 3.40%,#ffc400 4.26%,#ffad00 5.11%,#ff9900 5.96%,#ff8000 7.23%,#ff6b00 8.51%,#ff5500 10.21%,#ff4200 11.91%,#ff3000 14.04%,#ff2100 16.17%,#ff1100 18.72%,#ff0400 21.28%,#f60000 24.26%,#e70000 27.66%,#d60000 31.91%,#c60000 36.17%,#b60000 40.43%,#a20000 46.81%,#900000 53.19%,#810000 59.57%,#760000 65.96%,#6e0000 72.34%,#680000 78.72%,#640000 85.11%,#620000 91.49%,#600000 97.87%,#600000 100.00%)"></div><div style="height:2px;background:linear-gradient(90deg,#ffffbf 0.00%,#ffffab 0.21%,#ffff98 0.43%,#ffff86 0.64%,#ffff74 0.85%,#ffff64 1.06%,#ffff54 1.28%,#ffff37 1.70%,#ffff1b 2.13%,#ffff02 2.55%,#fff100 2.98%,#ffe200 3.40%,#ffc800 4.26%,#ffb100 5.11%,#ff9d00 5.96%,#ff8300 7.23%,#ff6e00 8.51%,#ff5600 10.21%,#ff4400 11.91%,#ff3100 14.04%,#ff2100 16.17%,#ff1100 18.72%,#ff0400 21.28%,#f50000 24.26%,#e60000 27.66%,#d40000 31.91%,#c30000 36.17%,#b40000 40.43%,#9e0000 46.81%,#8c0000 53.19%,#7d0000 59.57%,#720000 65.96%,#690000 72.34%,#630000 78.72%,#5f0000 85.11%,#5d0000 91.49%,#5b0000 97.87%,#5b0000 100.00%)"></div><div style="height:2px;background:linear-gradient(90deg,#ffffbf 0.00%,#ffffac 0.21%,#ffff9a 0.43%,#ffff89 0.64%,#ffff78 0.85%,#ffff68 1.06%,#ffff59 1.28%,#ffff3c 1.70%,#ffff21 2.13%,#ffff08 2.55%,#fff400 2.98%,#ffe600 3.40%,#ffcb00 4.26%,#ffb400 5.11%,#ffa000 5.96%,#ff8600 7.23%,#ff7000 8.51%,#ff5800 10.21%,#ff4500 11.91%,#ff3100 14.04%,#ff2100 16.17%,#ff1100 18.72%,#ff0300 21.28%,#f40000 24.26%,#e40000 27.66%,#d20000 31.91%,#c10000 36.17%,#b10000 40.43%,#9b0000 46.81%,#880000 53.19%,#790000 59.57%,#6d0000 65.96%,#650000 72.34%,#5e0000 78.72%,#5a0000 85.11%,#580000 91.49%,#560000 97.87%,#560000 100.00%)"></div><div style="height:2px;background:linear-gradient(90deg,#ffffbf 0.00%,#ffffad 0.21%,#ffff9c 0.43%,#ffff8b 0.64%,#ffff7b 0.85%,#ffff6c 1.06%,#ffff5d 1.28%,#ffff40 1.70%,#ffff26 2.13%,#ffff0d 2.55%,#fff800 2.98%,#ffea00 3.40%,#ffcf00 4.26%,#ffb800 5.11%,#ffa300 5.96%,#ff8900 7.23%,#ff7200 8.51%,#ff5a00 10.21%,#ff4600 11.91%,#ff3200 14.04%,#ff2200 16.17%,#ff1100 18.72%,#ff0300 21.28%,#f30000 24.26%,#e30000 27.66%,#d10000 31.91%,#bf0000 36.17%,#af0000 40.43%,#980000 46.81%,#850000 53.19%,#750000 59.57%,#690000 65.96%,#600000 72.34%,#5a0000 78.72%,#550000 85.11%,#530000 91.49%,#510000 97.87%,#510000 100.00%)"></div><div style="height:2px;background:linear-gradient(90deg,#ffffbf 0.00%,#ffffaf 0.21%,#ffff9e 0.43%,#ffff8e 0.64%,#ffff7f 0.85%,#ffff70 1.06%,#ffff61 1.28%,#ffff45 1.70%,#ffff2b 2.13%,#ffff12 2.55%,#fffc00 2.98%,#ffed00 3.40%,#ffd300 4.26%,#ffbb00 5.11%,#ffa600 5.96%,#ff8b00 7.23%,#ff7500 8.51%,#ff5c00 10.21%,#ff4800 11.91%,#ff3300 14.04%,#ff2200 16.17%,#ff1100 18.72%,#ff0200 21.28%,#f20000 24.26%,#e20000 27.66%,#cf0000 31.91%,#bd0000 36.17%,#ac0000 40.43%,#950000 46.81%,#810000 53.19%,#710000 59.57%,#650000 65.96%,#5b0000 72.34%,#550000 78.72%,#510000 85.11%,#4e0000 91.49%,#4c0000 97.87%,#4c0000 100.00%)"></div><div style="height:2px;background:linear-gradient(90deg,#ffffbf 0.00%,#ffffb0 0.21%,#ffffa0 0.43%,#ffff91 0.64%,#ffff82 0.85%,#ffff73 1.06%,#ffff65 1.28%,#ffff4a 1.70%,#ffff30 2.13%,#ffff17 2.55%,#ffff00 2.98%,#fff100 3.40%,#ffd600 4.26%,#ffbf00 5.11%,#ffaa00 5.96%,#ff8e00 7.23%,#ff7700 8.51%,#ff5e00 10.21%,#ff4900 11.91%,#ff3400 14.04%,#ff2200 16.17%,#ff1100 18.72%,#ff0200 21.28%,#f10000 24.26%,#e10000 27.66%,#cd0000 31.91%,#bb0000 36.17%,#aa0000 40.43%,#920000 46.81%,#7e0000 53.19%,#6d0000 59.57%,#600000 65.96%,#570000 72.34%,#500000 78.72%,#4c0000 85.11%,#490000 91.49%,#470000 97.87%,#470000 100.00%)"></div><div style="height:2px;background:linear-gradient(90deg,#ffffbf 0.00%,#ffffb1 0.21%,#ffffa2 0.43%,#ffff93 0.64%,#ffff85 0.85%,#ffff77 1.06%,#ffff69 1.28%,#ffff4e 1.70%,#ffff35 2.13%,#ffff1d 2.55%,#ffff06 2.98%,#fff400 3.40%,#ffda00 4.26%,#ffc200 5.11%,#ffad00 5.96%,#ff9100 7.23%,#ff7a00 8.51%,#ff6000 10.21%,#ff4b00 11.91%,#ff3500 14.04%,#ff2300 16.17%,#ff1100 18.72%,#ff0200 21.28%,#f10000 24.26%,#e00000 27.66%,#cc0000 31.91%,#b90000 36.17%,#a80000 40.43%,#900000 46.81%,#7b0000 53.19%,#6a0000 59.57%,#5d0000 65.96%,#540000 72.34%,#4d0000 78.72%,#480000 85.11%,#450000 91.49%,#440000 97.87%,#430000 100.00%)"></div><div style="height:2px;background:linear-gradient(90deg,#ffffbf 0.00%,#ffffb2 0.21%,#ffffa4 0.43%,#ffff96 0.64%,#ffff88 0.85%,#ffff7a 1.06%,#ffff6d 1.28%,#ffff52 1.70%,#ffff39 2.13%,#ffff22 2.55%,#ffff0b 2.98%,#fff800 3.40%,#ffdd00 4.26%,#ffc600 5.11%,#ffb000 5.96%,#ff9400 7.23%,#ff7c00 8.51%,#ff6200 10.21%,#ff4c00 11.91%,#ff3600 14.04%,#ff2400 16.17%,#ff1100 18.72%,#ff0200 21.28%,#f00000 24.26%,#df0000 27.66%,#cb0000 31.91%,#b80000 36.17%,#a60000 40.43%,#8e0000 46.81%,#790000 53.19%,#680000 59.57%,#5a0000 65.96%,#510000 72.34%,#4a0000 78.72%,#450000 85.11%,#420000 91.49%,#400000 97.87%,#400000 100.00%)"></div><div style="height:2px;background:linear-gradient(90deg,#ffffbf 0.00%,#ffffb3 0.21%,#ffffa5 0.43%,#ffff98 0.64%,#ffff8a 0.85%,#ffff7d 1.06%,#ffff70 1.28%,#ffff57 1.70%,#ffff3e 2.13%,#ffff26 2.55%,#ffff10 2.98%,#fffb00 3.40%,#ffe100 4.26%,#ffc900 5.11%,#ffb300 5.96%,#ff9700 7.23%,#ff7f00 8.51%,#ff6400 10.21%,#ff4e00 11.91%,#ff3700 14.04%,#ff2400 16.17%,#ff1200 18.72%,#ff0200 21.28%,#f00000 24.26%,#de0000 27.66%,#ca0000 31.91%,#b70000 36.17%,#a40000 40.43%,#8c0000 46.81%,#760000 53.19%,#650000 59.57%,#570000 65.96%,#4d0000 72.34%,#460000 78.72%,#420000 85.11%,#3f0000 91.49%,#3d0000 97.87%,#3c0000 100.00%)"></div><div style="height:2px;background:linear-gradient(90deg,#ffffbf 0.00%,#ffffb4 0.21%,#ffffa7 0.43%,#ffff9a 0.64%,#ffff8d 0.85%,#ffff80 1.06%,#ffff74 1.28%,#ffff5b 1.70%,#ffff42 2.13%,#ffff2b 2.55%,#ffff15 2.98%,#ffff00 3.40%,#ffe400 4.26%,#ffcc00 5.11%,#ffb700 5.96%,#ff9a00 7.23%,#ff8200 8.51%,#ff6600 10.21%,#ff4f00 11.91%,#ff3800 14.04%,#ff2500 16.17%,#ff1200 18.72%,#ff0200 21.28%,#f00000 24.26%,#de0000 27.66%,#c90000 31.91%,#b50000 36.17%,#a30000 40.43%,#890000 46.81%,#740000 53.19%,#620000 59.57%,#550000 65.96%,#4a0000 72.34%,#430000 78.72%,#3f0000 85.11%,#3b0000 91.49%,#3a0000 97.87%,#390000 100.00%)"></div><div style="height:2px;background:linear-gradient(90deg,#ffffbf 0.00%,#ffffb4 0.21%,#ffffa8 0.43%,#ffff9c 0.64%,#ffff90 0.85%,#ffff83 1.06%,#ffff77 1.28%,#ffff5e 1.70%,#ffff47 2.13%,#ffff30 2.55%,#ffff1a 2.98%,#ffff05 3.40%,#ffe800 4.26%,#ffd000 5.11%,#ffba00 5.96%,#ff9d00 7.23%,#ff8400 8.51%,#ff6800 10.21%,#ff5100 11.91%,#ff3900 14.04%,#ff2600 16.17%,#ff1200 18.72%,#ff0100 21.28%,#ef0000 24.26%,#dd0000 27.66%,#c80000 31.91%,#b40000 36.17%,#a10000 40.43%,#870000 46.81%,#710000 53.19%,#5f0000 59.57%,#520000 65.96%,#470000 72.34%,#400000 78.72%,#3b0000 85.11%,#380000 91.49%,#360000 97.87%,#360000 100.00%)"></div><div style="height:2px;background:linear-gradient(90deg,#ffffbf 0.00%,#ffffb5 0.21%,#ffffaa 0.43%,#ffff9e 0.64%,#ffff92 0.85%,#ffff86 1.06%,#ffff7a 1.28%,#ffff62 1.70%,#ffff4b 2.13%,#ffff35 2.55%,#ffff1f 2.98%,#ffff0a 3.40%,#ffeb00 4.26%,#ffd300 5.11%,#ffbd00 5.96%,#ffa000 7.23%,#ff8700 8.51%,#ff6a00 10.21%,#ff5300 11.91%,#ff3a00 14.04%,#ff2600 16.17%,#ff1200 18.72%,#ff0100 21.28%,#ef0000 24.26%,#dc0000 27.66%,#c70000 31.91%,#b30000 36.17%,#9f0000 40.43%,#850000 46.81%,#6f0000 53.19%,#5d0000 59.57%,#4f0000 65.96%,#440000 72.34%,#3d0000 78.72%,#380000 85.11%,#350000 91.49%,#330000 97.87%,#320000 100.00%)"></div><div style="height:2px;background:linear-gradient(90deg,#ffffbf 0.00%,#ffffb6 0.21%,#ffffab 0.43%,#ffffa0 0.64%,#ffff94 0.85%,#ffff89 1.06%,#ffff7d 1.28%,#ffff66 1.70%,#ffff4f 2.13%,#ffff39 2.55%,#ffff23 2.98%,#ffff0f 3.40%,#ffef00 4.26%,#ffd700 5.11%,#ffc100 5.96%,#ffa300 7.23%,#ff8900 8.51%,#ff6c00 10.21%,#ff5400 11.91%,#ff3c00 14.04%,#ff2700 16.17%,#ff1300 18.72%,#ff0100 21.28%,#ee0000 24.26%,#dc0000 27.66%,#c60000 31.91%,#b10000 36.17%,#9e0000 40.43%,#830000 46.81%,#6d0000 53.19%,#5a0000 59.57%,#4c0000 65.96%,#410000 72.34%,#3a0000 78.72%,#350000 85.11%,#310000 91.49%,#2f0000 97.87%,#2f0000 100.00%)"></div><div style="height:2px;background:linear-gradient(90deg,#ffffbf 0.00%,#ffffb7 0.21%,#ffffac 0.43%,#ffffa2 0.64%,#ffff96 0.85%,#ffff8b 1.06%,#ffff80 1.28%,#ffff69 1.70%,#ffff53 2.13%,#ffff3d 2.55%,#ffff28 2.98%,#ffff14 3.40%,#fff200 4.26%,#ffda00 5.11%,#ffc400 5.96%,#ffa600 7.23%,#ff8c00 8.51%,#ff6f00 10.21%,#ff5600 11.91%,#ff3d00 14.04%,#ff2800 16.17%,#ff1300 18.72%,#ff0100 21.28%,#ee0000 24.26%,#db0000 27.66%,#c50000 31.91%,#b00000 36.17%,#9c0000 40.43%,#810000 46.81%,#6a0000 53.19%,#570000 59.57%,#490000 65.96%,#3e0000 72.34%,#370000 78.72%,#310000 85.11%,#2e0000 91.49%,#2c0000 97.87%,#2c0000 100.00%)"></div><div style="height:2px;background:linear-gradient(90deg,#ffffbf 0.00%,#ffffb7 0.21%,#ffffae 0.43%,#ffffa3 0.64%,#ffff99 0.85%,#ffff8e 1.06%,#ffff83 1.28%,#ffff6d 1.70%,#ffff57 2.13%,#ffff42 2.55%,#ffff2d 2.98%,#ffff18 3.40%,#fff500 4.26%,#ffdd00 5.11%,#ffc700 5.96%,#ffa900 7.23%,#ff8f00 8.51%,#ff7100 10.21%,#ff5800 11.91%,#ff3e00 14.04%,#ff2900 16.17%,#ff1300 18.72%,#ff0100 21.28%,#ee0000 24.26%,#da0000 27.66%,#c40000 31.91%,#ae0000 36.17%,#9a0000 40.43%,#7f0000 46.81%,#680000 53.19%,#550000 59.57%,#460000 65.96%,#3b0000 72.34%,#330000 78.72%,#2e0000 85.11%,#2b0000 91.49%,#290000 97.87%,#280000 100.00%)"></div><div style="height:2px;background:linear-gradient(90deg,#ffffbf 0.00%,#ffffb8 0.21%,#ffffaf 0.43%,#ffffa5 0.64%,#ffff9b 0.85%,#ffff90 1.06%,#ffff85 1.28%,#ffff70 1.70%,#ffff5b 2.13%,#ffff46 2.55%,#ffff31 2.98%,#ffff1d 3.40%,#fff900 4.26%,#ffe100 5.11%,#ffca00 5.96%,#ffac00 7.23%,#ff9200 8.51%,#ff7300 10.21%,#ff5a00 11.91%,#ff3f00 14.04%,#ff2900 16.17%,#ff1400 18.72%,#ff0100 21.28%,#ed0000 24.26%,#d90000 27.66%,#c30000 31.91%,#ad0000 36.17%,#990000 40.43%,#7d0000 46.81%,#650000 53.19%,#520000 59.57%,#430000 65.96%,#380000 72.34%,#300000 78.72%,#2b0000 85.11%,#280000 91.49%,#250000 97.87%,#250000 100.00%)"></div><div style="height:2px;background:linear-gradient(90deg,#ffffbf 0.00%,#ffffb8 0.21%,#ffffb0 0.43%,#ffffa6 0.64%,#ffff9c 0.85%,#ffff92 1.06%,#ffff88 1.28%,#ffff73 1.70%,#ffff5e 2.13%,#ffff4a 2.55%,#ffff35 2.98%,#ffff22 3.40%,#fffc00 4.26%,#ffe400 5.11%,#ffce00 5.96%,#ffaf00 7.23%,#ff9400 8.51%,#ff7500 10.21%,#ff5b00 11.91%,#ff4100 14.04%,#ff2a00 16.17%,#ff1400 18.72%,#ff0100 21.28%,#ed0000 24.26%,#d90000 27.66%,#c20000 31.91%,#ac0000 36.17%,#970000 40.43%,#7b0000 46.81%,#630000 53.19%,#4f0000 59.57%,#400000 65.96%,#350000 72.34%,#2d0000 78.72%,#280000 85.11%,#240000 91.49%,#220000 97.87%,#220000 100.00%)"></div><div style="height:2px;background:linear-gradient(90deg,#ffffbf 0.00%,#ffffb9 0.21%,#ffffb1 0.43%,#ffffa8 0.64%,#ffff9e 0.85%,#ffff95 1.06%,#ffff8b 1.28%,#ffff76 1.70%,#ffff62 2.13%,#ffff4e 2.55%,#ffff3a 2.98%,#ffff26 3.40%,#ffff00 4.26%,#ffe700 5.11%,#ffd100 5.96%,#ffb200 7.23%,#ff9700 8.51%,#ff7800 10.21%,#ff5d00 11.91%,#ff4200 14.04%,#ff2b00 16.17%,#ff1400 18.72%,#ff0100 21.28%,#ec0000 24.26%,#d80000 27.66%,#c00000 31.91%,#aa0000 36.17%,#950000 40.43%,#790000 46.81%,#610000 53.19%,#4d0000 59.57%,#3d0000 65.96%,#320000 72.34%,#2a0000 78.72%,#240000 85.11%,#210000 91.49%,#1f0000 97.87%,#1e0000 100.00%)"></div><div style="height:2px;background:linear-gradient(90deg,#ffffbf 0.00%,#ffffb9 0.21%,#ffffb2 0.43%,#ffffa9 0.64%,#ffffa0 0.85%,#ffff97 1.06%,#ffff8d 1.28%,#ffff7a 1.70%,#ffff66 2.13%,#ffff52 2.55%,#ffff3f 2.98%,#ffff2c 3.40%,#ffff06 4.26%,#ffec00 5.11%,#ffd500 5.96%,#ffb700 7.23%,#ff9c00 8.51%,#ff7c00 10.21%,#ff6100 11.91%,#ff4500 14.04%,#ff2e00 16.17%,#ff1700 18.72%,#ff0400 21.28%,#ef0000 24.26%,#da0000 27.66%,#c30000 31.91%,#ad0000 36.17%,#990000 40.43%,#7d0000 46.81%,#650000 53.19%,#510000 59.57%,#420000 65.96%,#370000 72.34%,#2f0000 78.72%,#2a0000 85.11%,#270000 91.49%,#250000 97.87%,#240000 100.00%)"></div><div style="height:2px;background:linear-gradient(90deg,#ffffbf 0.00%,#ffffba 0.21%,#ffffb2 0.43%,#ffffaa 0.64%,#ffffa2 0.85%,#ffff99 1.06%,#ffff90 1.28%,#ffff7d 1.70%,#ffff6a 2.13%,#ffff57 2.55%,#ffff44 2.98%,#ffff31 3.40%,#ffff0d 4.26%,#fff000 5.11%,#ffda00 5.96%,#ffbc00 7.23%,#ffa100 8.51%,#ff8100 10.21%,#ff6600 11.91%,#ff4a00 14.04%,#ff3200 16.17%,#ff1b00 18.72%,#ff0700 21.28%,#f20000 24.26%,#de0000 27.66%,#c70000 31.91%,#b10000 36.17%,#9d0000 40.43%,#820000 46.81%,#6b0000 53.19%,#580000 59.57%,#490000 65.96%,#3f0000 72.34%,#370000 78.72%,#320000 85.11%,#2f0000 91.49%,#2d0000 97.87%,#2c0000 100.00%)"></div><div style="height:2px;background:linear-gradient(90deg,#ffffbf 0.00%,#ffffba 0.21%,#ffffb3 0.43%,#ffffab 0.64%,#ffffa3 0.85%,#ffff9b 1.06%,#ffff92 1.28%,#ffff80 1.70%,#ffff6e 2.13%,#ffff5b 2.55%,#ffff49 2.98%,#ffff37 3.40%,#ffff13 4.26%,#fff500 5.11%,#ffdf00 5.96%,#ffc100 7.23%,#ffa600 8.51%,#ff8600 10.21%,#ff6b00 11.91%,#ff4e00 14.04%,#ff3600 16.17%,#ff1e00 18.72%,#ff0a00 21.28%,#f50000 24.26%,#e10000 27.66%,#ca0000 31.91%,#b50000 36.17%,#a20000 40.43%,#870000 46.81%,#710000 53.19%,#5f0000 59.57%,#510000 65.96%,#460000 72.34%,#3f0000 78.72%,#3a0000 85.11%,#370000 91.49%,#350000 97.87%,#340000 100.00%)"></div><div style="height:1px;background:linear-gradient(90deg,#ffffbf 0.00%,#ffffba 0.21%,#ffffb4 0.43%,#ffffac 0.64%,#ffffa4 0.85%,#ffff9c 1.06%,#ffff94 1.28%,#ffff82 1.70%,#ffff70 2.13%,#ffff5e 2.55%,#ffff4c 2.98%,#ffff3b 3.40%,#ffff17 4.26%,#fff800 5.11%,#ffe300 5.96%,#ffc500 7.23%,#ffaa00 8.51%,#ff8a00 10.21%,#ff6e00 11.91%,#ff5100 14.04%,#ff3900 16.17%,#ff2100 18.72%,#ff0d00 21.28%,#f70000 24.26%,#e30000 27.66%,#cd0000 31.91%,#b80000 36.17%,#a50000 40.43%,#8b0000 46.81%,#750000 53.19%,#640000 59.57%,#560000 65.96%,#4c0000 72.34%,#440000 78.72%,#400000 85.11%,#3d0000 91.49%,#3b0000 97.87%,#3a0000 100.00%)"></div><div style="height:1px;background:linear-gradient(90deg,#ffffbf 0.00%,#ffffba 0.21%,#ffffb4 0.43%,#ffffad 0.64%,#ffffa5 0.85%,#ffff9d 1.06%,#ffff95 1.28%,#ffff84 1.70%,#ffff72 2.13%,#ffff60 2.55%,#ffff4f 2.98%,#ffff3d 3.40%,#ffff1a 4.26%,#fffa00 5.11%,#ffe500 5.96%,#ffc700 7.23%,#ffac00 8.51%,#ff8c00 10.21%,#ff7100 11.91%,#ff5400 14.04%,#ff3b00 16.17%,#ff2300 18.72%,#ff0e00 21.28%,#f90000 24.26%,#e50000 27.66%,#ce0000 31.91%,#ba0000 36.17%,#a70000 40.43%,#8e0000 46.81%,#780000 53.19%,#670000 59.57%,#590000 65.96%,#4f0000 72.34%,#480000 78.72%,#440000 85.11%,#410000 91.49%,#3f0000 97.87%,#3e0000 100.00%)"></div><div style="height:1px;background:linear-gradient(90deg,#ffffbf 0.00%,#ffffbb 0.21%,#ffffb4 0.43%,#ffffad 0.64%,#ffffa6 0.85%,#ffff9e 1.06%,#ffff96 1.28%,#ffff85 1.70%,#ffff74 2.13%,#ffff62 2.55%,#ffff51 2.98%,#ffff40 3.40%,#ffff1d 4.26%,#fffc00 5.11%,#ffe700 5.96%,#ffca00 7.23%,#ffaf00 8.51%,#ff8f00 10.21%,#ff7300 11.91%,#ff5600 14.04%,#ff3d00 16.17%,#ff2500 18.72%,#ff1000 21.28%,#fb0000 24.26%,#e70000 27.66%,#d00000 31.91%,#bc0000 36.17%,#aa0000 40.43%,#910000 46.81%,#7b0000 53.19%,#6a0000 59.57%,#5d0000 65.96%,#530000 72.34%,#4c0000 78.72%,#480000 85.11%,#450000 91.49%,#430000 97.87%,#420000 100.00%)"></div><div style="height:1px;background:linear-gradient(90deg,#ffffbf 0.00%,#ffffbb 0.21%,#ffffb5 0.43%,#ffffae 0.64%,#ffffa7 0.85%,#ffff9f 1.06%,#ffff97 1.28%,#ffff86 1.70%,#ffff76 2.13%,#ffff64 2.55%,#ffff53 2.98%,#ffff42 3.40%,#ffff20 4.26%,#fffe00 5.11%,#ffea00 5.96%,#ffcc00 7.23%,#ffb100 8.51%,#ff9100 10.21%,#ff7500 11.91%,#ff5800 14.04%,#ff3f00 16.17%,#ff2600 18.72%,#ff1200 21.28%,#fc0000 24.26%,#e80000 27.66%,#d20000 31.91%,#be0000 36.17%,#ac0000 40.43%,#930000 46.81%,#7e0000 53.19%,#6e0000 59.57%,#600000 65.96%,#570000 72.34%,#500000 78.72%,#4b0000 85.11%,#490000 91.49%,#470000 97.87%,#460000 100.00%)"></div><div style="height:1px;background:linear-gradient(90deg,#ffffbf 0.00%,#ffffbb 0.21%,#ffffb5 0.43%,#ffffae 0.64%,#ffffa7 0.85%,#ffffa0 1.06%,#ffff98 1.28%,#ffff88 1.70%,#ffff77 2.13%,#ffff66 2.55%,#ffff55 2.98%,#ffff44 3.40%,#ffff23 4.26%,#ffff02 5.11%,#ffec00 5.96%,#ffce00 7.23%,#ffb400 8.51%,#ff9400 10.21%,#ff7800 11.91%,#ff5a00 14.04%,#ff4100 16.17%,#ff2800 18.72%,#ff1400 21.28%,#fe0000 24.26%,#ea0000 27.66%,#d40000 31.91%,#c00000 36.17%,#ae0000 40.43%,#960000 46.81%,#810000 53.19%,#710000 59.57%,#640000 65.96%,#5b0000 72.34%,#540000 78.72%,#4f0000 85.11%,#4d0000 91.49%,#4b0000 97.87%,#4a0000 100.00%)"></div><div style="height:1px;background:linear-gradient(90deg,#ffffbf 0.00%,#ffffbb 0.21%,#ffffb5 0.43%,#ffffaf 0.64%,#ffffa8 0.85%,#ffffa0 1.06%,#ffff99 1.28%,#ffff89 1.70%,#ffff79 2.13%,#ffff68 2.55%,#ffff57 2.98%,#ffff47 3.40%,#ffff26 4.26%,#ffff05 5.11%,#ffee00 5.96%,#ffd100 7.23%,#ffb600 8.51%,#ff9600 10.21%,#ff7a00 11.91%,#ff5c00 14.04%,#ff4300 16.17%,#ff2a00 18.72%,#ff1500 21.28%,#ff0100 24.26%,#ec0000 27.66%,#d60000 31.91%,#c20000 36.17%,#b00000 40.43%,#990000 46.81%,#850000 53.19%,#740000 59.57%,#680000 65.96%,#5e0000 72.34%,#580000 78.72%,#530000 85.11%,#500000 91.49%,#4f0000 97.87%,#4e0000 100.00%)"></div></div><div class="bx" style="left:48px;top:89px;width:235px;height:122px"></div><div class="tk" style="left:77px;top:90px;width:1px;height:2px"></div><div class="tk" style="left:77px;top:208px;width:1px;height:2px"></div><div class="tk" style="left:106px;top:90px;width:1px;height:2px"></div><div class="tk" style="left:106px;top:208px;width:1px;height:2px"></div><div class="tk" style="left:136px;top:90px;width:1px;height:2px"></div><div class="tk" style="left:136px;top:208px;width:1px;height:2px"></div><div class="tk" style="left:165px;top:90px;width:1px;height:2px"></div><div class="tk" style="left:165px;top:208px;width:1px;height:2px"></div><div class="tk" style="left:194px;top:90px;width:1px;height:2px"></div><div class="tk" style="left:194px;top:208px;width:1px;height:2px"></div><div class="tk" style="left:224px;top:90px;width:1px;height:2px"></div><div class="tk" style="left:224px;top:208px;width:1px;height:2px"></div><div class="tk" style="left:253px;top:90px;width:1px;height:2px"></div><div class="tk" style="left:253px;top:208px;width:1px;height:2px"></div><div class="tk" style="left:49px;top:113px;width:2px;height:1px"></div><div class="tk" style="left:280px;top:113px;width:2px;height:1px"></div><div class="tk" style="left:49px;top:137px;width:2px;height:1px"></div><div class="tk" style="left:280px;top:137px;width:2px;height:1px"></div><div class="tk" style="left:49px;top:162px;width:2px;height:1px"></div><div class="tk" style="left:280px;top:162px;width:2px;height:1px"></div><div class="tk" style="left:49px;top:186px;width:2px;height:1px"></div><div class="tk" style="left:280px;top:186px;width:2px;height:1px"></div><div class="tl" style="left:105.5px;top:65px;width:120px;text-align:center">Cartilage</div><div class="tl" style="left:28.50px;top:213.0px;width:40px;text-align:center">0</div><div class="tl" style="left:57.75px;top:213.0px;width:40px;text-align:center">6</div><div class="tl" style="left:87.00px;top:213.0px;width:40px;text-align:center">12</div><div class="tl" style="left:116.25px;top:213.0px;width:40px;text-align:center">18</div><div class="tl" style="left:145.50px;top:213.0px;width:40px;text-align:center">24</div><div class="tl" style="left:174.75px;top:213.0px;width:40px;text-align:center">30</div><div class="tl" style="left:204.00px;top:213.0px;width:40px;text-align:center">36</div><div class="tl" style="left:233.25px;top:213.0px;width:40px;text-align:center">42</div><div class="tl" style="left:262.50px;top:213.0px;width:40px;text-align:center">48</div><div class="tl" style="left:6.70px;top:79.50px;width:40px;text-align:right">0</div><div class="tl" style="left:6.70px;top:103.70px;width:40px;text-align:right">0.2</div><div class="tl" style="left:6.70px;top:127.90px;width:40px;text-align:right">0.4</div><div class="tl" style="left:6.70px;top:152.10px;width:40px;text-align:right">0.6</div><div class="tl" style="left:6.70px;top:176.30px;width:40px;text-align:right">0.8</div><div class="tl" style="left:6.70px;top:200.50px;width:40px;text-align:right">1</div><div class="tl" style="left:105.5px;top:231.5px;width:120px;text-align:center">Time (h)</div><div class="tl ylab" style="left:-57.20px;top:141px;width:132px;text-align:center">Relative thickness</div>
<div class="hm" style="left:357px;top:89px"><div style="height:1px;background:linear-gradient(90deg,#ffffbf 0.00%,#ffff49 0.21%,#ffff23 0.43%,#ffff0b 0.64%,#fffb00 0.85%,#fff100 1.06%,#ffea00 1.28%,#ffdf00 1.70%,#ffd700 2.13%,#ffd000 2.55%,#ffcb00 2.98%,#ffc700 3.40%,#ffc100 4.26%,#ffbc00 5.11%,#ffb800 5.96%,#ffb400 7.23%,#ffb000 8.51%,#ffac00 10.21%,#ffa900 11.91%,#ffa500 14.04%,#ffa200 16.17%,#ff9f00 18.72%,#ff9c00 21.28%,#ff9800 24.26%,#ff9400 27.66%,#ff9000 31.91%,#ff8c00 36.17%,#ff8900 40.43%,#ff8400 46.81%,#ff8000 53.19%,#ff7c00 59.57%,#ff7800 65.96%,#ff7500 72.34%,#ff7300 78.72%,#ff7000 85.11%,#ff6e00 91.49%,#ff6d00 97.87%,#ff6c00 100.00%)"></div><div style="height:1px;background:linear-gradient(90deg,#ffffbf 0.00%,#ffff46 0.21%,#ffff1d 0.43%,#ffff03 0.64%,#fff500 0.85%,#ffeb00 1.06%,#ffe300 1.28%,#ffd700 1.70%,#ffce00 2.13%,#ffc700 2.55%,#ffc200 2.98%,#ffbd00 3.40%,#ffb600 4.26%,#ffb100 5.11%,#ffad00 5.96%,#ffa800 7.23%,#ffa400 8.51%,#ffa000 10.21%,#ff9d00 11.91%,#ff9900 14.04%,#ff9500 16.17%,#ff9200 18.72%,#ff8e00 21.28%,#ff8a00 24.26%,#ff8600 27.66%,#ff8200 31.91%,#ff7e00 36.17%,#ff7a00 40.43%,#ff7400 46.81%,#ff7000 53.19%,#ff6c00 59.57%,#ff6800 65.96%,#ff6500 72.34%,#ff6200 78.72%,#ff6000 85.11%,#ff5d00 91.49%,#ff5b00 97.87%,#ff5b00 100.00%)"></div><div style="height:1px;background:linear-gradient(90deg,#ffffbf 0.00%,#ffff42 0.21%,#ffff18 0.43%,#fffc00 0.64%,#ffef00 0.85%,#ffe400 1.06%,#ffdc00 1.28%,#ffcf00 1.70%,#ffc500 2.13%,#ffbe00 2.55%,#ffb800 2.98%,#ffb300 3.40%,#ffac00 4.26%,#ffa600 5.11%,#ffa200 5.96%,#ff9d00 7.23%,#ff9900 8.51%,#ff9400 10.21%,#ff9100 11.91%,#ff8c00 14.04%,#ff8900 16.17%,#ff8500 18.72%,#ff8100 21.28%,#ff7d00 24.26%,#ff7800 27.66%,#ff7400 31.91%,#ff6f00 36.17%,#ff6b00 40.43%,#ff6500 46.81%,#ff6000 53.19%,#ff5c00 59.57%,#ff5800 65.96%,#ff5400 72.34%,#ff5100 78.72%,#ff4f00 85.11%,#ff4c00 91.49%,#ff4a00 97.87%,#ff4900 100.00%)"></div><div style="height:1px;background:linear-gradient(90deg,#ffffbf 0.00%,#ffff3f 0.21%,#ffff12 0.43%,#fff800 0.64%,#ffe900 0.85%,#ffde00 1.06%,#ffd500 1.28%,#ffc700 1.70%,#ffbd00 2.13%,#ffb500 2.55%,#ffaf00 2.98%,#ffaa00 3.40%,#ffa200 4.26%,#ff9c00 5.11%,#ff9700 5.96%,#ff9100 7.23%,#ff8d00 8.51%,#ff8800 10.21%,#ff8400 11.91%,#ff8000 14.04%,#ff7c00 16.17%,#ff7800 18.72%,#ff7400 21.28%,#ff6f00 24.26%,#ff6b00 27.66%,#ff6500 31.91%,#ff6000 36.17%,#ff5c00 40.43%,#ff5600 46.81%,#ff5000 53.19%,#ff4c00 59.57%,#ff4700 65.96%,#ff4400 72.34%,#ff4000 78.72%,#ff3e00 85.11%,#ff3b00 91.49%,#ff3900 97.87%,#ff3800 100.00%)"></div><div style="height:1px;background:linear-gradient(90deg,#ffffbf 0.00%,#ffff3c 0.21%,#ffff0d 0.43%,#fff300 0.64%,#ffe400 0.85%,#ffd800 1.06%,#ffce00 1.28%,#ffbf00 1.70%,#ffb400 2.13%,#ffac00 2.55%,#ffa500 2.98%,#ffa000 3.40%,#ff9700 4.26%,#ff9100 5.11%,#ff8c00 5.96%,#ff8600 7.23%,#ff8100 8.51%,#ff7c00 10.21%,#ff7800 11.91%,#ff7300 14.04%,#ff6f00 16.17%,#ff6a00 18.72%,#ff6600 21.28%,#ff6200 24.26%,#ff5d00 27.66%,#ff5700 31.91%,#ff5200 36.17%,#ff4d00 40.43%,#ff4600 46.81%,#ff4100 53.19%,#ff3c00 59.57%,#ff3700 65.96%,#ff3300 72.34%,#ff3000 78.72%,#ff2d00 85.11%,#ff2a00 91.49%,#ff2700 97.87%,#ff2700 100.00%)"></div><div style="height:1px;background:linear-gradient(90deg,#ffffbf 0.00%,#ffff3e 0.21%,#ffff0e 0.43%,#fff300 0.64%,#ffe400 0.85%,#ffd800 1.06%,#ffce00 1.28%,#ffbe00 1.70%,#ffb300 2.13%,#ffab00 2.55%,#ffa400 2.98%,#ff9e00 3.40%,#ff9500 4.26%,#ff8f00 5.11%,#ff8900 5.96%,#ff8300 7.23%,#ff7f00 8.51%,#ff7a00 10.21%,#ff7500 11.91%,#ff7000 14.04%,#ff6c00 16.17%,#ff6700 18.72%,#ff6300 21.28%,#ff5e00 24.26%,#ff5900 27.66%,#ff5400 31.91%,#ff4e00 36.17%,#ff4900 40.43%,#ff4300 46.81%,#ff3d00 53.19%,#ff3800 59.57%,#ff3300 65.96%,#ff2f00 72.34%,#ff2c00 78.72%,#ff2800 85.11%,#ff2600 91.49%,#ff2300 97.87%,#ff2200 100.00%)"></div><div style="height:1px;background:linear-gradient(90deg,#ffffbf 0.00%,#ffff41 0.21%,#ffff11 0.43%,#fff500 0.64%,#ffe600 0.85%,#ffd900 1.06%,#ffcf00 1.28%,#ffc000 1.70%,#ffb400 2.13%,#ffab00 2.55%,#ffa400 2.98%,#ff9e00 3.40%,#ff9500 4.26%,#ff8f00 5.11%,#ff8a00 5.96%,#ff8400 7.23%,#ff7f00 8.51%,#ff7a00 10.21%,#ff7500 11.91%,#ff7000 14.04%,#ff6c00 16.17%,#ff6700 18.72%,#ff6300 21.28%,#ff5e00 24.26%,#ff5900 27.66%,#ff5400 31.91%,#ff4e00 36.17%,#ff4900 40.43%,#ff4300 46.81%,#ff3d00 53.19%,#ff3800 59.57%,#ff3300 65.96%,#ff2f00 72.34%,#ff2b00 78.72%,#ff2800 85.11%,#ff2600 91.49%,#ff2300 97.87%,#ff2200 100.00%)"></div><div style="height:1px;background:linear-gradient(90deg,#ffffbf 0.00%,#ffff44 0.21%,#ffff14 0.43%,#fff700 0.64%,#ffe700 0.85%,#ffdb00 1.06%,#ffd100 1.28%,#ffc100 1.70%,#ffb500 2.13%,#ffac00 2.55%,#ffa500 2.98%,#ff9f00 3.40%,#ff9600 4.26%,#ff8f00 5.11%,#ff8a00 5.96%,#ff8400 7.23%,#ff7f00 8.51%,#ff7a00 10.21%,#ff7500 11.91%,#ff7100 14.04%,#ff6c00 16.17%,#ff6800 18.72%,#ff6300 21.28%,#ff5e00 24.26%,#ff5900 27.66%,#ff5400 31.91%,#ff4e00 36.17%,#ff4900 40.43%,#ff4300 46.81%,#ff3d00 53.19%,#ff3800 59.57%,#ff3300 65.96%,#ff2f00 72.34%,#ff2b00 78.72%,#ff2800 85.11%,#ff2500 91.49%,#ff2300 97.87%,#ff2200 100.00%)"></div><div style="height:2px;background:linear-gradient(90deg,#ffffbf 0.00%,#ffff48 0.21%,#ffff19 0.43%,#fffa00 0.64%,#ffea00 0.85%,#ffdd00 1.06%,#ffd300 1.28%,#ffc300 1.70%,#ffb700 2.13%,#ffad00 2.55%,#ffa600 2.98%,#ffa000 3.40%,#ff9600 4.26%,#ff9000 5.11%,#ff8a00 5.96%,#ff8400 7.23%,#ff7f00 8.51%,#ff7a00 10.21%,#ff7500 11.91%,#ff7100 14.04%,#ff6c00 16.17%,#ff6800 18.72%,#ff6300 21.28%,#ff5f00 24.26%,#ff5900 27.66%,#ff5400 31.91%,#ff4e00 36.17%,#ff4900 40.43%,#ff4300 46.81%,#ff3d00 53.19%,#ff3700 59.57%,#ff3300 65.96%,#ff2f00 72.34%,#ff2b00 78.72%,#ff2800 85.11%,#ff2500 91.49%,#ff2300 97.87%,#ff2200 100.00%)"></div><div style="height:2px;background:linear-gradient(90deg,#ffffbf 0.00%,#ffff4e 0.21%,#ffff1f 0.43%,#fffe00 0.64%,#ffed00 0.85%,#ffe000 1.06%,#ffd600 1.28%,#ffc500 1.70%,#ffb800 2.13%,#ffaf00 2.55%,#ffa700 2.98%,#ffa100 3.40%,#ff9700 4.26%,#ff9000 5.11%,#ff8b00 5.96%,#ff8400 7.23%,#ff7f00 8.51%,#ff7a00 10.21%,#ff7600 11.91%,#ff7100 14.04%,#ff6d00 16.17%,#ff6800 18.72%,#ff6300 21.28%,#ff5f00 24.26%,#ff5a00 27.66%,#ff5400 31.91%,#ff4e00 36.17%,#ff4900 40.43%,#ff4300 46.81%,#ff3d00 53.19%,#ff3700 59.57%,#ff3300 65.96%,#ff2f00 72.34%,#ff2b00 78.72%,#ff2800 85.11%,#ff2500 91.49%,#ff2200 97.87%,#ff2200 100.00%)"></div><div style="height:2px;background:linear-gradient(90deg,#ffffbf 0.00%,#ffff54 0.21%,#ffff25 0.43%,#ffff04 0.64%,#fff100 0.85%,#ffe400 1.06%,#ffd900 1.28%,#ffc800 1.70%,#ffbb00 2.13%,#ffb100 2.55%,#ffa900 2.98%,#ffa300 3.40%,#ff9900 4.26%,#ff9200 5.11%,#ff8c00 5.96%,#ff8500 7.23%,#ff8000 8.51%,#ff7b00 10.21%,#ff7700 11.91%,#ff7200 14.04%,#ff6d00 16.17%,#ff6900 18.72%,#ff6400 21.28%,#ff5f00 24.26%,#ff5a00 27.66%,#ff5400 31.91%,#ff4f00 36.17%,#ff4a00 40.43%,#ff4300 46.81%,#ff3d00 53.19%,#ff3800 59.57%,#ff3300 65.96%,#ff2f00 72.34%,#ff2b00 78.72%,#ff2800 85.11%,#ff2500 91.49%,#ff2200 97.87%,#ff2200 100.00%)"></div><div style="height:2px;background:linear-gradient(90deg,#ffffbf 0.00%,#ffff59 0.21%,#ffff2c 0.43%,#ffff0c 0.64%,#fff700 0.85%,#ffe900 1.06%,#ffde00 1.28%,#ffcd00 1.70%,#ffc100 2.13%,#ffb600 2.55%,#ffae00 2.98%,#ffa800 3.40%,#ff9e00 4.26%,#ff9600 5.11%,#ff9000 5.96%,#ff8a00 7.23%,#ff8400 8.51%,#ff7f00 10.21%,#ff7a00 11.91%,#ff7500 14.04%,#ff7100 16.17%,#ff6c00 18.72%,#ff6700 21.28%,#ff6200 24.26%,#ff5d00 27.66%,#ff5700 31.91%,#ff5200 36.17%,#ff4d00 40.43%,#ff4600 46.81%,#ff4000 53.19%,#ff3a00 59.57%,#ff3500 65.96%,#ff3100 72.34%,#ff2d00 78.72%,#ff2a00 85.11%,#ff2700 91.49%,#ff2500 97.87%,#ff2400 100.00%)"></div><div style="height:2px;background:linear-gradient(90deg,#ffffbf 0.00%,#ffff5f 0.21%,#ffff32 0.43%,#ffff13 0.64%,#fffc00 0.85%,#ffef00 1.06%,#ffe400 1.28%,#ffd300 1.70%,#ffc600 2.13%,#ffbc00 2.55%,#ffb400 2.98%,#ffad00 3.40%,#ffa200 4.26%,#ff9b00 5.11%,#ff9500 5.96%,#ff8e00 7.23%,#ff8800 8.51%,#ff8300 10.21%,#ff7e00 11.91%,#ff7900 14.04%,#ff7400 16.17%,#ff6f00 18.72%,#ff6b00 21.28%,#ff6600 24.26%,#ff6000 27.66%,#ff5a00 31.91%,#ff5500 36.17%,#ff4f00 40.43%,#ff4800 46.81%,#ff4200 53.19%,#ff3d00 59.57%,#ff3800 65.96%,#ff3300 72.34%,#ff3000 78.72%,#ff2c00 85.11%,#ff2900 91.49%,#ff2700 97.87%,#ff2600 100.00%)"></div><div style="height:2px;background:linear-gradient(90deg,#ffffbf 0.00%,#ffff64 0.21%,#ffff39 0.43%,#ffff1a 0.64%,#ffff03 0.85%,#fff400 1.06%,#ffe900 1.28%,#ffd800 1.70%,#ffcb00 2.13%,#ffc100 2.55%,#ffb900 2.98%,#ffb200 3.40%,#ffa700 4.26%,#ff9f00 5.11%,#ff9900 5.96%,#ff9200 7.23%,#ff8c00 8.51%,#ff8600 10.21%,#ff8200 11.91%,#ff7c00 14.04%,#ff7800 16.17%,#ff7300 18.72%,#ff6e00 21.28%,#ff6900 24.26%,#ff6300 27.66%,#ff5d00 31.91%,#ff5700 36.17%,#ff5200 40.43%,#ff4b00 46.81%,#ff4500 53.19%,#ff3f00 59.57%,#ff3a00 65.96%,#ff3600 72.34%,#ff3200 78.72%,#ff2e00 85.11%,#ff2b00 91.49%,#ff2900 97.87%,#ff2800 100.00%)"></div><div style="height:2px;background:linear-gradient(90deg,#ffffbf 0.00%,#ffff68 0.21%,#ffff3f 0.43%,#ffff21 0.64%,#ffff0a 0.85%,#fff900 1.06%,#ffee00 1.28%,#ffdd00 1.70%,#ffd000 2.13%,#ffc600 2.55%,#ffbd00 2.98%,#ffb700 3.40%,#ffac00 4.26%,#ffa400 5.11%,#ff9d00 5.96%,#ff9600 7.23%,#ff9000 8.51%,#ff8a00 10.21%,#ff8500 11.91%,#ff8000 14.04%,#ff7b00 16.17%,#ff7600 18.72%,#ff7100 21.28%,#ff6c00 24.26%,#ff6600 27.66%,#ff6000 31.91%,#ff5a00 36.17%,#ff5500 40.43%,#ff4e00 46.81%,#ff4700 53.19%,#ff4100 59.57%,#ff3c00 65.96%,#ff3800 72.34%,#ff3400 78.72%,#ff3100 85.11%,#ff2d00 91.49%,#ff2b00 97.87%,#ff2a00 100.00%)"></div><div style="height:2px;background:linear-gradient(90deg,#ffffbf 0.00%,#ffff6d 0.21%,#ffff45 0.43%,#ffff28 0.64%,#ffff11 0.85%,#fffe00 1.06%,#fff300 1.28%,#ffe200 1.70%,#ffd500 2.13%,#ffcb00 2.55%,#ffc200 2.98%,#ffbb00 3.40%,#ffb000 4.26%,#ffa800 5.11%,#ffa200 5.96%,#ff9a00 7.23%,#ff9400 8.51%,#ff8e00 10.21%,#ff8900 11.91%,#ff8300 14.04%,#ff7f00 16.17%,#ff7900 18.72%,#ff7400 21.28%,#ff6f00 24.26%,#ff6a00 27.66%,#ff6300 31.91%,#ff5d00 36.17%,#ff5800 40.43%,#ff5000 46.81%,#ff4a00 53.19%,#ff4400 59.57%,#ff3f00 65.96%,#ff3a00 72.34%,#ff3600 78.72%,#ff3300 85.11%,#ff3000 91.49%,#ff2d00 97.87%,#ff2c00 100.00%)"></div><div style="height:2px;background:linear-gradient(90deg,#ffffbf 0.00%,#ffff71 0.21%,#ffff4a 0.43%,#ffff2e 0.64%,#ffff17 0.85%,#ffff05 1.06%,#fff800 1.28%,#ffe700 1.70%,#ffda00 2.13%,#ffd000 2.55%,#ffc700 2.98%,#ffc000 3.40%,#ffb500 4.26%,#ffac00 5.11%,#ffa600 5.96%,#ff9e00 7.23%,#ff9800 8.51%,#ff9200 10.21%,#ff8d00 11.91%,#ff8700 14.04%,#ff8200 16.17%,#ff7d00 18.72%,#ff7800 21.28%,#ff7200 24.26%,#ff6d00 27.66%,#ff6600 31.91%,#ff6000 36.17%,#ff5a00 40.43%,#ff5300 46.81%,#ff4c00 53.19%,#ff4600 59.57%,#ff4100 65.96%,#ff3d00 72.34%,#ff3900 78.72%,#ff3500 85.11%,#ff3200 91.49%,#ff2f00 97.87%,#ff2e00 100.00%)"></div><div style="height:2px;background:linear-gradient(90deg,#ffffbf 0.00%,#ffff75 0.21%,#ffff4f 0.43%,#ffff34 0.64%,#ffff1e 0.85%,#ffff0b 1.06%,#fffc00 1.28%,#ffec00 1.70%,#ffdf00 2.13%,#ffd400 2.55%,#ffcc00 2.98%,#ffc500 3.40%,#ffb900 4.26%,#ffb100 5.11%,#ffaa00 5.96%,#ffa200 7.23%,#ff9c00 8.51%,#ff9600 10.21%,#ff9000 11.91%,#ff8b00 14.04%,#ff8500 16.17%,#ff8000 18.72%,#ff7b00 21.28%,#ff7500 24.26%,#ff7000 27.66%,#ff6900 31.91%,#ff6300 36.17%,#ff5d00 40.43%,#ff5600 46.81%,#ff4f00 53.19%,#ff4900 59.57%,#ff4400 65.96%,#ff3f00 72.34%,#ff3b00 78.72%,#ff3700 85.11%,#ff3400 91.49%,#ff3100 97.87%,#ff3000 100.00%)"></div><div style="height:2px;background:linear-gradient(90deg,#ffffbf 0.00%,#ffff79 0.21%,#ffff55 0.43%,#ffff3a 0.64%,#ffff24 0.85%,#ffff12 1.06%,#ffff03 1.28%,#fff000 1.70%,#ffe300 2.13%,#ffd900 2.55%,#ffd000 2.98%,#ffc900 3.40%,#ffbe00 4.26%,#ffb500 5.11%,#ffae00 5.96%,#ffa600 7.23%,#ffa000 8.51%,#ff9900 10.21%,#ff9400 11.91%,#ff8e00 14.04%,#ff8900 16.17%,#ff8300 18.72%,#ff7e00 21.28%,#ff7900 24.26%,#ff7300 27.66%,#ff6c00 31.91%,#ff6600 36.17%,#ff6000 40.43%,#ff5800 46.81%,#ff5100 53.19%,#ff4b00 59.57%,#ff4600 65.96%,#ff4100 72.34%,#ff3d00 78.72%,#ff3900 85.11%,#ff3600 91.49%,#ff3300 97.87%,#ff3200 100.00%)"></div><div style="height:2px;background:linear-gradient(90deg,#ffffbf 0.00%,#ffff7c 0.21%,#ffff59 0.43%,#ffff3f 0.64%,#ffff2a 0.85%,#ffff18 1.06%,#ffff09 1.28%,#fff500 1.70%,#ffe800 2.13%,#ffdd00 2.55%,#ffd500 2.98%,#ffce00 3.40%,#ffc200 4.26%,#ffb900 5.11%,#ffb200 5.96%,#ffaa00 7.23%,#ffa400 8.51%,#ff9d00 10.21%,#ff9800 11.91%,#ff9200 14.04%,#ff8c00 16.17%,#ff8700 18.72%,#ff8100 21.28%,#ff7c00 24.26%,#ff7600 27.66%,#ff6f00 31.91%,#ff6900 36.17%,#ff6300 40.43%,#ff5b00 46.81%,#ff5400 53.19%,#ff4e00 59.57%,#ff4800 65.96%,#ff4300 72.34%,#ff3f00 78.72%,#ff3b00 85.11%,#ff3800 91.49%,#ff3500 97.87%,#ff3400 100.00%)"></div><div style="height:2px;background:linear-gradient(90deg,#ffffbf 0.00%,#ffff80 0.21%,#ffff5e 0.43%,#ffff44 0.64%,#ffff30 0.85%,#ffff1e 1.06%,#ffff10 1.28%,#fff900 1.70%,#ffec00 2.13%,#ffe200 2.55%,#ffd900 2.98%,#ffd200 3.40%,#ffc600 4.26%,#ffbe00 5.11%,#ffb700 5.96%,#ffae00 7.23%,#ffa800 8.51%,#ffa100 10.21%,#ff9b00 11.91%,#ff9500 14.04%,#ff9000 16.17%,#ff8a00 18.72%,#ff8500 21.28%,#ff7f00 24.26%,#ff7900 27.66%,#ff7200 31.91%,#ff6b00 36.17%,#ff6600 40.43%,#ff5e00 46.81%,#ff5600 53.19%,#ff5000 59.57%,#ff4b00 65.96%,#ff4600 72.34%,#ff4100 78.72%,#ff3e00 85.11%,#ff3a00 91.49%,#ff3700 97.87%,#ff3600 100.00%)"></div><div style="height:2px;background:linear-gradient(90deg,#ffffbf 0.00%,#ffff83 0.21%,#ffff62 0.43%,#ffff49 0.64%,#ffff35 0.85%,#ffff24 1.06%,#ffff16 1.28%,#fffd00 1.70%,#fff100 2.13%,#ffe600 2.55%,#ffde00 2.98%,#ffd600 3.40%,#ffcb00 4.26%,#ffc200 5.11%,#ffbb00 5.96%,#ffb200 7.23%,#ffac00 8.51%,#ffa500 10.21%,#ff9f00 11.91%,#ff9900 14.04%,#ff9300 16.17%,#ff8d00 18.72%,#ff8800 21.28%,#ff8200 24.26%,#ff7c00 27.66%,#ff7500 31.91%,#ff6e00 36.17%,#ff6800 40.43%,#ff6000 46.81%,#ff5900 53.19%,#ff5300 59.57%,#ff4d00 65.96%,#ff4800 72.34%,#ff4400 78.72%,#ff4000 85.11%,#ff3c00 91.49%,#ff3900 97.87%,#ff3800 100.00%)"></div><div style="height:2px;background:linear-gradient(90deg,#ffffbf 0.00%,#ffff86 0.21%,#ffff67 0.43%,#ffff4e 0.64%,#ffff3b 0.85%,#ffff2a 1.06%,#ffff1c 1.28%,#ffff04 1.70%,#fff500 2.13%,#ffeb00 2.55%,#ffe200 2.98%,#ffdb00 3.40%,#ffcf00 4.26%,#ffc600 5.11%,#ffbf00 5.96%,#ffb600 7.23%,#ffb000 8.51%,#ffa800 10.21%,#ffa200 11.91%,#ff9c00 14.04%,#ff9700 16.17%,#ff9100 18.72%,#ff8b00 21.28%,#ff8500 24.26%,#ff7f00 27.66%,#ff7800 31.91%,#ff7100 36.17%,#ff6b00 40.43%,#ff6300 46.81%,#ff5c00 53.19%,#ff5500 59.57%,#ff4f00 65.96%,#ff4a00 72.34%,#ff4600 78.72%,#ff4200 85.11%,#ff3e00 91.49%,#ff3b00 97.87%,#ff3a00 100.00%)"></div><div style="height:2px;background:linear-gradient(90deg,#ffffbf 0.00%,#ffff89 0.21%,#ffff6b 0.43%,#ffff53 0.64%,#ffff40 0.85%,#ffff30 1.06%,#ffff21 1.28%,#ffff0a 1.70%,#fff900 2.13%,#ffef00 2.55%,#ffe600 2.98%,#ffdf00 3.40%,#ffd300 4.26%,#ffca00 5.11%,#ffc300 5.96%,#ffba00 7.23%,#ffb300 8.51%,#ffac00 10.21%,#ffa600 11.91%,#ffa000 14.04%,#ff9a00 16.17%,#ff9400 18.72%,#ff8e00 21.28%,#ff8800 24.26%,#ff8200 27.66%,#ff7b00 31.91%,#ff7400 36.17%,#ff6e00 40.43%,#ff6500 46.81%,#ff5e00 53.19%,#ff5800 59.57%,#ff5200 65.96%,#ff4d00 72.34%,#ff4800 78.72%,#ff4400 85.11%,#ff4100 91.49%,#ff3d00 97.87%,#ff3c00 100.00%)"></div><div style="height:2px;background:linear-gradient(90deg,#ffffbf 0.00%,#ffff8c 0.21%,#ffff6f 0.43%,#ffff58 0.64%,#ffff45 0.85%,#ffff35 1.06%,#ffff27 1.28%,#ffff10 1.70%,#fffd00 2.13%,#fff300 2.55%,#ffea00 2.98%,#ffe300 3.40%,#ffd700 4.26%,#ffce00 5.11%,#ffc700 5.96%,#ffbe00 7.23%,#ffb700 8.51%,#ffb000 10.21%,#ffaa00 11.91%,#ffa300 14.04%,#ff9d00 16.17%,#ff9700 18.72%,#ff9200 21.28%,#ff8c00 24.26%,#ff8500 27.66%,#ff7e00 31.91%,#ff7700 36.17%,#ff7100 40.43%,#ff6800 46.81%,#ff6100 53.19%,#ff5a00 59.57%,#ff5400 65.96%,#ff4f00 72.34%,#ff4a00 78.72%,#ff4600 85.11%,#ff4300 91.49%,#ff4000 97.87%,#ff3f00 100.00%)"></div><div style="height:2px;background:linear-gradient(90deg,#ffffbf 0.00%,#ffff8f 0.21%,#ffff72 0.43%,#ffff5c 0.64%,#ffff4a 0.85%,#ffff3a 1.06%,#ffff2d 1.28%,#ffff16 1.70%,#ffff03 2.13%,#fff700 2.55%,#ffef00 2.98%,#ffe700 3.40%,#ffdb00 4.26%,#ffd200 5.11%,#ffcb00 5.96%,#ffc200 7.23%,#ffbb00 8.51%,#ffb300 10.21%,#ffad00 11.91%,#ffa700 14.04%,#ffa100 16.17%,#ff9b00 18.72%,#ff9500 21.28%,#ff8f00 24.26%,#ff8800 27.66%,#ff8100 31.91%,#ff7a00 36.17%,#ff7300 40.43%,#ff6b00 46.81%,#ff6300 53.19%,#ff5c00 59.57%,#ff5600 65.96%,#ff5100 72.34%,#ff4d00 78.72%,#ff4800 85.11%,#ff4500 91.49%,#ff4200 97.87%,#ff4100 100.00%)"></div><div style="height:2px;background:linear-gradient(90deg,#ffffbf 0.00%,#ffff91 0.21%,#ffff76 0.43%,#ffff60 0.64%,#ffff4f 0.85%,#ffff3f 1.06%,#ffff32 1.28%,#ffff1b 1.70%,#ffff09 2.13%,#fffb00 2.55%,#fff300 2.98%,#ffeb00 3.40%,#ffe000 4.26%,#ffd600 5.11%,#ffcf00 5.96%,#ffc600 7.23%,#ffbf00 8.51%,#ffb700 10.21%,#ffb100 11.91%,#ffaa00 14.04%,#ffa400 16.17%,#ff9e00 18.72%,#ff9800 21.28%,#ff9200 24.26%,#ff8b00 27.66%,#ff8400 31.91%,#ff7d00 36.17%,#ff7600 40.43%,#ff6d00 46.81%,#ff6600 53.19%,#ff5f00 59.57%,#ff5900 65.96%,#ff5400 72.34%,#ff4f00 78.72%,#ff4b00 85.11%,#ff4700 91.49%,#ff4400 97.87%,#ff4300 100.00%)"></div><div style="height:2px;background:linear-gradient(90deg,#ffffbf 0.00%,#ffff94 0.21%,#ffff79 0.43%,#ffff64 0.64%,#ffff53 0.85%,#ffff44 1.06%,#ffff37 1.28%,#ffff21 1.70%,#ffff0f 2.13%,#ffff00 2.55%,#fff700 2.98%,#ffef00 3.40%,#ffe400 4.26%,#ffda00 5.11%,#ffd300 5.96%,#ffca00 7.23%,#ffc300 8.51%,#ffbb00 10.21%,#ffb400 11.91%,#ffae00 14.04%,#ffa800 16.17%,#ffa100 18.72%,#ff9b00 21.28%,#ff9500 24.26%,#ff8e00 27.66%,#ff8700 31.91%,#ff7f00 36.17%,#ff7900 40.43%,#ff7000 46.81%,#ff6800 53.19%,#ff6100 59.57%,#ff5b00 65.96%,#ff5600 72.34%,#ff5100 78.72%,#ff4d00 85.11%,#ff4900 91.49%,#ff4600 97.87%,#ff4500 100.00%)"></div><div style="height:2px;background:linear-gradient(90deg,#ffffbf 0.00%,#ffff96 0.21%,#ffff7d 0.43%,#ffff68 0.64%,#ffff58 0.85%,#ffff49 1.06%,#ffff3c 1.28%,#ffff26 1.70%,#ffff15 2.13%,#ffff06 2.55%,#fffb00 2.98%,#fff300 3.40%,#ffe800 4.26%,#ffde00 5.11%,#ffd700 5.96%,#ffce00 7.23%,#ffc600 8.51%,#ffbf00 10.21%,#ffb800 11.91%,#ffb100 14.04%,#ffab00 16.17%,#ffa500 18.72%,#ff9f00 21.28%,#ff9800 24.26%,#ff9100 27.66%,#ff8900 31.91%,#ff8200 36.17%,#ff7c00 40.43%,#ff7300 46.81%,#ff6b00 53.19%,#ff6400 59.57%,#ff5e00 65.96%,#ff5800 72.34%,#ff5300 78.72%,#ff4f00 85.11%,#ff4b00 91.49%,#ff4800 97.87%,#ff4700 100.00%)"></div><div style="height:2px;background:linear-gradient(90deg,#ffffbf 0.00%,#ffff98 0.21%,#ffff80 0.43%,#ffff6c 0.64%,#ffff5c 0.85%,#ffff4e 1.06%,#ffff41 1.28%,#ffff2c 1.70%,#ffff1a 2.13%,#ffff0c 2.55%,#fffe00 2.98%,#fff700 3.40%,#ffeb00 4.26%,#ffe200 5.11%,#ffdb00 5.96%,#ffd100 7.23%,#ffca00 8.51%,#ffc200 10.21%,#ffbc00 11.91%,#ffb500 14.04%,#ffaf00 16.17%,#ffa800 18.72%,#ffa200 21.28%,#ff9b00 24.26%,#ff9400 27.66%,#ff8c00 31.91%,#ff8500 36.17%,#ff7e00 40.43%,#ff7500 46.81%,#ff6d00 53.19%,#ff6600 59.57%,#ff6000 65.96%,#ff5a00 72.34%,#ff5500 78.72%,#ff5100 85.11%,#ff4d00 91.49%,#ff4a00 97.87%,#ff4900 100.00%)"></div><div style="height:2px;background:linear-gradient(90deg,#ffffbf 0.00%,#ffff9a 0.21%,#ffff83 0.43%,#ffff70 0.64%,#ffff60 0.85%,#ffff52 1.06%,#ffff46 1.28%,#ffff31 1.70%,#ffff20 2.13%,#ffff11 2.55%,#ffff05 2.98%,#fffb00 3.40%,#ffef00 4.26%,#ffe600 5.11%,#ffde00 5.96%,#ffd500 7.23%,#ffce00 8.51%,#ffc600 10.21%,#ffbf00 11.91%,#ffb800 14.04%,#ffb200 16.17%,#ffab00 18.72%,#ffa500 21.28%,#ff9e00 24.26%,#ff9700 27.66%,#ff8f00 31.91%,#ff8800 36.17%,#ff8100 40.43%,#ff7800 46.81%,#ff7000 53.19%,#ff6900 59.57%,#ff6200 65.96%,#ff5d00 72.34%,#ff5800 78.72%,#ff5300 85.11%,#ff4f00 91.49%,#ff4c00 97.87%,#ff4b00 100.00%)"></div><div style="height:2px;background:linear-gradient(90deg,#ffffbf 0.00%,#ffff9c 0.21%,#ffff86 0.43%,#ffff73 0.64%,#ffff64 0.85%,#ffff56 1.06%,#ffff4a 1.28%,#ffff36 1.70%,#ffff25 2.13%,#ffff17 2.55%,#ffff0b 2.98%,#ffff00 3.40%,#fff300 4.26%,#ffea00 5.11%,#ffe200 5.96%,#ffd900 7.23%,#ffd200 8.51%,#ffc900 10.21%,#ffc300 11.91%,#ffbc00 14.04%,#ffb500 16.17%,#ffaf00 18.72%,#ffa800 21.28%,#ffa200 24.26%,#ff9b00 27.66%,#ff9200 31.91%,#ff8b00 36.17%,#ff8400 40.43%,#ff7b00 46.81%,#ff7200 53.19%,#ff6b00 59.57%,#ff6500 65.96%,#ff5f00 72.34%,#ff5a00 78.72%,#ff5500 85.11%,#ff5200 91.49%,#ff4e00 97.87%,#ff4d00 100.00%)"></div><div style="height:2px;background:linear-gradient(90deg,#ffffbf 0.00%,#ffff9e 0.21%,#ffff88 0.43%,#ffff77 0.64%,#ffff68 0.85%,#ffff5b 1.06%,#ffff4f 1.28%,#ffff3b 1.70%,#ffff2a 2.13%,#ffff1c 2.55%,#ffff10 2.98%,#ffff06 3.40%,#fff700 4.26%,#ffee00 5.11%,#ffe600 5.96%,#ffdd00 7.23%,#ffd500 8.51%,#ffcd00 10.21%,#ffc600 11.91%,#ffbf00 14.04%,#ffb900 16.17%,#ffb200 18.72%,#ffac00 21.28%,#ffa500 24.26%,#ff9e00 27.66%,#ff9500 31.91%,#ff8e00 36.17%,#ff8700 40.43%,#ff7d00 46.81%,#ff7500 53.19%,#ff6e00 59.57%,#ff6700 65.96%,#ff6100 72.34%,#ff5c00 78.72%,#ff5800 85.11%,#ff5400 91.49%,#ff5000 97.87%,#ff4f00 100.00%)"></div><div style="height:2px;background:linear-gradient(90deg,#ffffbf 0.00%,#ffffa0 0.21%,#ffff8b 0.43%,#ffff7a 0.64%,#ffff6c 0.85%,#ffff5f 1.06%,#ffff53 1.28%,#ffff40 1.70%,#ffff2f 2.13%,#ffff22 2.55%,#ffff16 2.98%,#ffff0b 3.40%,#fffb00 4.26%,#fff100 5.11%,#ffea00 5.96%,#ffe000 7.23%,#ffd900 8.51%,#ffd100 10.21%,#ffca00 11.91%,#ffc300 14.04%,#ffbc00 16.17%,#ffb500 18.72%,#ffaf00 21.28%,#ffa800 24.26%,#ffa100 27.66%,#ff9800 31.91%,#ff9100 36.17%,#ff8a00 40.43%,#ff8000 46.81%,#ff7800 53.19%,#ff7000 59.57%,#ff6900 65.96%,#ff6400 72.34%,#ff5e00 78.72%,#ff5a00 85.11%,#ff5600 91.49%,#ff5200 97.87%,#ff5100 100.00%)"></div><div style="height:2px;background:linear-gradient(90deg,#ffffbf 0.00%,#ffffa2 0.21%,#ffff8e 0.43%,#ffff7d 0.64%,#ffff6f 0.85%,#ffff63 1.06%,#ffff58 1.28%,#ffff45 1.70%,#ffff34 2.13%,#ffff27 2.55%,#ffff1b 2.98%,#ffff11 3.40%,#ffff00 4.26%,#fff500 5.11%,#ffee00 5.96%,#ffe400 7.23%,#ffdd00 8.51%,#ffd400 10.21%,#ffcd00 11.91%,#ffc600 14.04%,#ffc000 16.17%,#ffb800 18.72%,#ffb200 21.28%,#ffab00 24.26%,#ffa400 27.66%,#ff9b00 31.91%,#ff9300 36.17%,#ff8c00 40.43%,#ff8300 46.81%,#ff7a00 53.19%,#ff7200 59.57%,#ff6c00 65.96%,#ff6600 72.34%,#ff6100 78.72%,#ff5c00 85.11%,#ff5800 91.49%,#ff5400 97.87%,#ff5300 100.00%)"></div><div style="height:2px;background:linear-gradient(90deg,#ffffbf 0.00%,#ffffa2 0.21%,#ffff8e 0.43%,#ffff7e 0.64%,#ffff70 0.85%,#ffff64 1.06%,#ffff59 1.28%,#ffff46 1.70%,#ffff36 2.13%,#ffff29 2.55%,#ffff1d 2.98%,#ffff13 3.40%,#ffff01 4.26%,#fff700 5.11%,#ffef00 5.96%,#ffe600 7.23%,#ffde00 8.51%,#ffd600 10.21%,#ffcf00 11.91%,#ffc700 14.04%,#ffc100 16.17%,#ffba00 18.72%,#ffb300 21.28%,#ffac00 24.26%,#ffa500 27.66%,#ff9d00 31.91%,#ff9500 36.17%,#ff8e00 40.43%,#ff8400 46.81%,#ff7b00 53.19%,#ff7400 59.57%,#ff6d00 65.96%,#ff6700 72.34%,#ff6200 78.72%,#ff5d00 85.11%,#ff5900 91.49%,#ff5600 97.87%,#ff5500 100.00%)"></div><div style="height:2px;background:linear-gradient(90deg,#ffffbf 0.00%,#ffffa2 0.21%,#ffff8f 0.43%,#ffff7f 0.64%,#ffff72 0.85%,#ffff65 1.06%,#ffff5b 1.28%,#ffff48 1.70%,#ffff38 2.13%,#ffff2a 2.55%,#ffff1f 2.98%,#ffff15 3.40%,#ffff03 4.26%,#fff800 5.11%,#fff000 5.96%,#ffe700 7.23%,#ffdf00 8.51%,#ffd700 10.21%,#ffd000 11.91%,#ffc900 14.04%,#ffc200 16.17%,#ffbb00 18.72%,#ffb500 21.28%,#ffae00 24.26%,#ffa600 27.66%,#ff9e00 31.91%,#ff9600 36.17%,#ff8f00 40.43%,#ff8500 46.81%,#ff7d00 53.19%,#ff7500 59.57%,#ff6f00 65.96%,#ff6900 72.34%,#ff6300 78.72%,#ff5f00 85.11%,#ff5b00 91.49%,#ff5700 97.87%,#ff5600 100.00%)"></div><div style="height:2px;background:linear-gradient(90deg,#ffffbf 0.00%,#ffffa3 0.21%,#ffff90 0.43%,#ffff80 0.64%,#ffff73 0.85%,#ffff67 1.06%,#ffff5c 1.28%,#ffff49 1.70%,#ffff3a 2.13%,#ffff2c 2.55%,#ffff21 2.98%,#ffff16 3.40%,#ffff05 4.26%,#fff900 5.11%,#fff200 5.96%,#ffe800 7.23%,#ffe100 8.51%,#ffd800 10.21%,#ffd100 11.91%,#ffca00 14.04%,#ffc300 16.17%,#ffbc00 18.72%,#ffb600 21.28%,#ffaf00 24.26%,#ffa800 27.66%,#ff9f00 31.91%,#ff9700 36.17%,#ff9000 40.43%,#ff8700 46.81%,#ff7e00 53.19%,#ff7700 59.57%,#ff7000 65.96%,#ff6a00 72.34%,#ff6500 78.72%,#ff6000 85.11%,#ff5c00 91.49%,#ff5900 97.87%,#ff5800 100.00%)"></div><div style="height:2px;background:linear-gradient(90deg,#ffffbf 0.00%,#ffffa3 0.21%,#ffff91 0.43%,#ffff81 0.64%,#ffff74 0.85%,#ffff68 1.06%,#ffff5d 1.28%,#ffff4b 1.70%,#ffff3b 2.13%,#ffff2e 2.55%,#ffff23 2.98%,#ffff18 3.40%,#ffff07 4.26%,#fffb00 5.11%,#fff300 5.96%,#ffea00 7.23%,#ffe200 8.51%,#ffda00 10.21%,#ffd300 11.91%,#ffcb00 14.04%,#ffc500 16.17%,#ffbe00 18.72%,#ffb700 21.28%,#ffb000 24.26%,#ffa900 27.66%,#ffa000 31.91%,#ff9900 36.17%,#ff9200 40.43%,#ff8800 46.81%,#ff8000 53.19%,#ff7800 59.57%,#ff7100 65.96%,#ff6c00 72.34%,#ff6600 78.72%,#ff6200 85.11%,#ff5e00 91.49%,#ff5a00 97.87%,#ff5900 100.00%)"></div><div style="height:2px;background:linear-gradient(90deg,#ffffbf 0.00%,#ffffa4 0.21%,#ffff91 0.43%,#ffff82 0.64%,#ffff75 0.85%,#ffff69 1.06%,#ffff5f 1.28%,#ffff4c 1.70%,#ffff3d 2.13%,#ffff30 2.55%,#ffff24 2.98%,#ffff1a 3.40%,#ffff09 4.26%,#fffc00 5.11%,#fff400 5.96%,#ffeb00 7.23%,#ffe300 8.51%,#ffdb00 10.21%,#ffd400 11.91%,#ffcd00 14.04%,#ffc600 16.17%,#ffbf00 18.72%,#ffb800 21.28%,#ffb100 24.26%,#ffaa00 27.66%,#ffa200 31.91%,#ff9a00 36.17%,#ff9300 40.43%,#ff8900 46.81%,#ff8100 53.19%,#ff7900 59.57%,#ff7300 65.96%,#ff6d00 72.34%,#ff6800 78.72%,#ff6300 85.11%,#ff5f00 91.49%,#ff5c00 97.87%,#ff5a00 100.00%)"></div><div style="height:2px;background:linear-gradient(90deg,#ffffbf 0.00%,#ffffa4 0.21%,#ffff92 0.43%,#ffff83 0.64%,#ffff76 0.85%,#ffff6a 1.06%,#ffff60 1.28%,#ffff4e 1.70%,#ffff3f 2.13%,#ffff32 2.55%,#ffff26 2.98%,#ffff1c 3.40%,#ffff0b 4.26%,#fffd00 5.11%,#fff600 5.96%,#ffec00 7.23%,#ffe500 8.51%,#ffdc00 10.21%,#ffd500 11.91%,#ffce00 14.04%,#ffc700 16.17%,#ffc000 18.72%,#ffba00 21.28%,#ffb300 24.26%,#ffab00 27.66%,#ffa300 31.91%,#ff9b00 36.17%,#ff9400 40.43%,#ff8b00 46.81%,#ff8200 53.19%,#ff7b00 59.57%,#ff7400 65.96%,#ff6e00 72.34%,#ff6900 78.72%,#ff6500 85.11%,#ff6100 91.49%,#ff5d00 97.87%,#ff5c00 100.00%)"></div><div style="height:2px;background:linear-gradient(90deg,#ffffbf 0.00%,#ffffa5 0.21%,#ffff93 0.43%,#ffff84 0.64%,#ffff77 0.85%,#ffff6c 1.06%,#ffff61 1.28%,#ffff4f 1.70%,#ffff40 2.13%,#ffff33 2.55%,#ffff28 2.98%,#ffff1e 3.40%,#ffff0d 4.26%,#ffff00 5.11%,#fff700 5.96%,#ffee00 7.23%,#ffe600 8.51%,#ffde00 10.21%,#ffd700 11.91%,#ffcf00 14.04%,#ffc900 16.17%,#ffc100 18.72%,#ffbb00 21.28%,#ffb400 24.26%,#ffad00 27.66%,#ffa400 31.91%,#ff9d00 36.17%,#ff9600 40.43%,#ff8c00 46.81%,#ff8400 53.19%,#ff7c00 59.57%,#ff7600 65.96%,#ff7000 72.34%,#ff6b00 78.72%,#ff6600 85.11%,#ff6200 91.49%,#ff5e00 97.87%,#ff5d00 100.00%)"></div><div style="height:2px;background:linear-gradient(90deg,#ffffbf 0.00%,#ffffa5 0.21%,#ffff93 0.43%,#ffff85 0.64%,#ffff78 0.85%,#ffff6d 1.06%,#ffff63 1.28%,#ffff51 1.70%,#ffff42 2.13%,#ffff35 2.55%,#ffff2a 2.98%,#ffff20 3.40%,#ffff0f 4.26%,#ffff01 5.11%,#fff800 5.96%,#ffef00 7.23%,#ffe700 8.51%,#ffdf00 10.21%,#ffd800 11.91%,#ffd000 14.04%,#ffca00 16.17%,#ffc300 18.72%,#ffbc00 21.28%,#ffb500 24.26%,#ffae00 27.66%,#ffa600 31.91%,#ff9e00 36.17%,#ff9700 40.43%,#ff8d00 46.81%,#ff8500 53.19%,#ff7e00 59.57%,#ff7700 65.96%,#ff7100 72.34%,#ff6c00 78.72%,#ff6700 85.11%,#ff6300 91.49%,#ff6000 97.87%,#ff5f00 100.00%)"></div><div style="height:2px;background:linear-gradient(90deg,#ffffbf 0.00%,#ffffa5 0.21%,#ffff94 0.43%,#ffff86 0.64%,#ffff79 0.85%,#ffff6e 1.06%,#ffff64 1.28%,#ffff52 1.70%,#ffff44 2.13%,#ffff37 2.55%,#ffff2c 2.98%,#ffff22 3.40%,#ffff11 4.26%,#ffff03 5.11%,#fffa00 5.96%,#fff000 7.23%,#ffe900 8.51%,#ffe000 10.21%,#ffd900 11.91%,#ffd200 14.04%,#ffcb00 16.17%,#ffc400 18.72%,#ffbe00 21.28%,#ffb700 24.26%,#ffaf00 27.66%,#ffa700 31.91%,#ff9f00 36.17%,#ff9800 40.43%,#ff8f00 46.81%,#ff8600 53.19%,#ff7f00 59.57%,#ff7800 65.96%,#ff7300 72.34%,#ff6d00 78.72%,#ff6900 85.11%,#ff6500 91.49%,#ff6100 97.87%,#ff6000 100.00%)"></div><div style="height:2px;background:linear-gradient(90deg,#ffffbf 0.00%,#ffffa6 0.21%,#ffff95 0.43%,#ffff86 0.64%,#ffff7a 0.85%,#ffff6f 1.06%,#ffff65 1.28%,#ffff54 1.70%,#ffff45 2.13%,#ffff38 2.55%,#ffff2d 2.98%,#ffff24 3.40%,#ffff13 4.26%,#ffff05 5.11%,#fffb00 5.96%,#fff200 7.23%,#ffea00 8.51%,#ffe200 10.21%,#ffdb00 11.91%,#ffd300 14.04%,#ffcc00 16.17%,#ffc500 18.72%,#ffbf00 21.28%,#ffb800 24.26%,#ffb100 27.66%,#ffa800 31.91%,#ffa100 36.17%,#ff9a00 40.43%,#ff9000 46.81%,#ff8800 53.19%,#ff8000 59.57%,#ff7a00 65.96%,#ff7400 72.34%,#ff6f00 78.72%,#ff6a00 85.11%,#ff6600 91.49%,#ff6300 97.87%,#ff6200 100.00%)"></div><div style="height:2px;background:linear-gradient(90deg,#ffffbf 0.00%,#ffffa6 0.21%,#ffff95 0.43%,#ffff87 0.64%,#ffff7b 0.85%,#ffff70 1.06%,#ffff66 1.28%,#ffff55 1.70%,#ffff47 2.13%,#ffff3a 2.55%,#ffff2f 2.98%,#ffff25 3.40%,#ffff15 4.26%,#ffff07 5.11%,#fffc00 5.96%,#fff300 7.23%,#ffeb00 8.51%,#ffe300 10.21%,#ffdc00 11.91%,#ffd400 14.04%,#ffce00 16.17%,#ffc700 18.72%,#ffc000 21.28%,#ffb900 24.26%,#ffb200 27.66%,#ffaa00 31.91%,#ffa200 36.17%,#ff9b00 40.43%,#ff9100 46.81%,#ff8900 53.19%,#ff8200 59.57%,#ff7b00 65.96%,#ff7500 72.34%,#ff7000 78.72%,#ff6c00 85.11%,#ff6800 91.49%,#ff6400 97.87%,#ff6300 100.00%)"></div><div style="height:2px;background:linear-gradient(90deg,#ffffbf 0.00%,#ffffa7 0.21%,#ffff96 0.43%,#ffff88 0.64%,#ffff7c 0.85%,#ffff71 1.06%,#ffff68 1.28%,#ffff57 1.70%,#ffff48 2.13%,#ffff3c 2.55%,#ffff31 2.98%,#ffff27 3.40%,#ffff17 4.26%,#ffff09 5.11%,#fffe00 5.96%,#fff400 7.23%,#ffed00 8.51%,#ffe400 10.21%,#ffdd00 11.91%,#ffd600 14.04%,#ffcf00 16.17%,#ffc800 18.72%,#ffc100 21.28%,#ffba00 24.26%,#ffb300 27.66%,#ffab00 31.91%,#ffa300 36.17%,#ff9c00 40.43%,#ff9300 46.81%,#ff8b00 53.19%,#ff8300 59.57%,#ff7d00 65.96%,#ff7700 72.34%,#ff7200 78.72%,#ff6d00 85.11%,#ff6900 91.49%,#ff6600 97.87%,#ff6500 100.00%)"></div><div style="height:2px;background:linear-gradient(90deg,#ffffbf 0.00%,#ffffa7 0.21%,#ffff97 0.43%,#ffff89 0.64%,#ffff7d 0.85%,#ffff72 1.06%,#ffff69 1.28%,#ffff58 1.70%,#ffff4a 2.13%,#ffff3d 2.55%,#ffff33 2.98%,#ffff29 3.40%,#ffff19 4.26%,#ffff0b 5.11%,#ffff00 5.96%,#fff600 7.23%,#ffee00 8.51%,#ffe600 10.21%,#ffde00 11.91%,#ffd700 14.04%,#ffd000 16.17%,#ffc900 18.72%,#ffc300 21.28%,#ffbc00 24.26%,#ffb500 27.66%,#ffac00 31.91%,#ffa500 36.17%,#ff9e00 40.43%,#ff9400 46.81%,#ff8c00 53.19%,#ff8500 59.57%,#ff7e00 65.96%,#ff7800 72.34%,#ff7300 78.72%,#ff6f00 85.11%,#ff6b00 91.49%,#ff6700 97.87%,#ff6600 100.00%)"></div><div style="height:2px;background:linear-gradient(90deg,#ffffbf 0.00%,#ffffa7 0.21%,#ffff97 0.43%,#ffff8a 0.64%,#ffff7e 0.85%,#ffff73 1.06%,#ffff6a 1.28%,#ffff59 1.70%,#ffff4b 2.13%,#ffff3f 2.55%,#ffff34 2.98%,#ffff2b 3.40%,#ffff1a 4.26%,#ffff0d 5.11%,#ffff02 5.96%,#fff700 7.23%,#ffef00 8.51%,#ffe700 10.21%,#ffe000 11.91%,#ffd800 14.04%,#ffd100 16.17%,#ffca00 18.72%,#ffc400 21.28%,#ffbd00 24.26%,#ffb600 27.66%,#ffae00 31.91%,#ffa600 36.17%,#ff9f00 40.43%,#ff9600 46.81%,#ff8d00 53.19%,#ff8600 59.57%,#ff7f00 65.96%,#ff7a00 72.34%,#ff7500 78.72%,#ff7000 85.11%,#ff6c00 91.49%,#ff6900 97.87%,#ff6700 100.00%)"></div><div style="height:2px;background:linear-gradient(90deg,#ffffbf 0.00%,#ffffa8 0.21%,#ffff98 0.43%,#ffff8b 0.64%,#ffff7f 0.85%,#ffff75 1.06%,#ffff6b 1.28%,#ffff5b 1.70%,#ffff4d 2.13%,#ffff41 2.55%,#ffff36 2.98%,#ffff2c 3.40%,#ffff1c 4.26%,#ffff0f 5.11%,#ffff04 5.96%,#fff800 7.23%,#fff100 8.51%,#ffe800 10.21%,#ffe100 11.91%,#ffd900 14.04%,#ffd300 16.17%,#ffcc00 18.72%,#ffc500 21.28%,#ffbe00 24.26%,#ffb700 27.66%,#ffaf00 31.91%,#ffa700 36.17%,#ffa000 40.43%,#ff9700 46.81%,#ff8f00 53.19%,#ff8700 59.57%,#ff8100 65.96%,#ff7b00 72.34%,#ff7600 78.72%,#ff7100 85.11%,#ff6e00 91.49%,#ff6a00 97.87%,#ff6900 100.00%)"></div><div style="height:2px;background:linear-gradient(90deg,#ffffbf 0.00%,#ffffa8 0.21%,#ffff98 0.43%,#ffff8b 0.64%,#ffff80 0.85%,#ffff76 1.06%,#ffff6c 1.28%,#ffff5c 1.70%,#ffff4e 2.13%,#ffff42 2.55%,#ffff38 2.98%,#ffff2e 3.40%,#ffff1e 4.26%,#ffff11 5.11%,#ffff06 5.96%,#fffa00 7.23%,#fff200 8.51%,#ffe900 10.21%,#ffe200 11.91%,#ffdb00 14.04%,#ffd400 16.17%,#ffcd00 18.72%,#ffc700 21.28%,#ffc000 24.26%,#ffb800 27.66%,#ffb000 31.91%,#ffa900 36.17%,#ffa200 40.43%,#ff9800 46.81%,#ff9000 53.19%,#ff8900 59.57%,#ff8200 65.96%,#ff7c00 72.34%,#ff7700 78.72%,#ff7300 85.11%,#ff6f00 91.49%,#ff6b00 97.87%,#ff6a00 100.00%)"></div><div style="height:2px;background:linear-gradient(90deg,#ffffbf 0.00%,#ffffa9 0.21%,#ffff99 0.43%,#ffff8c 0.64%,#ffff81 0.85%,#ffff77 1.06%,#ffff6d 1.28%,#ffff5d 1.70%,#ffff50 2.13%,#ffff44 2.55%,#ffff39 2.98%,#ffff30 3.40%,#ffff20 4.26%,#ffff13 5.11%,#ffff08 5.96%,#fffb00 7.23%,#fff300 8.51%,#ffeb00 10.21%,#ffe400 11.91%,#ffdc00 14.04%,#ffd500 16.17%,#ffce00 18.72%,#ffc800 21.28%,#ffc100 24.26%,#ffba00 27.66%,#ffb100 31.91%,#ffaa00 36.17%,#ffa300 40.43%,#ff9a00 46.81%,#ff9100 53.19%,#ff8a00 59.57%,#ff8400 65.96%,#ff7e00 72.34%,#ff7900 78.72%,#ff7400 85.11%,#ff7000 91.49%,#ff6d00 97.87%,#ff6c00 100.00%)"></div><div style="height:2px;background:linear-gradient(90deg,#ffffbf 0.00%,#ffffa9 0.21%,#ffff9a 0.43%,#ffff8d 0.64%,#ffff82 0.85%,#ffff78 1.06%,#ffff6f 1.28%,#ffff5f 1.70%,#ffff51 2.13%,#ffff45 2.55%,#ffff3b 2.98%,#ffff32 3.40%,#ffff22 4.26%,#ffff15 5.11%,#ffff0a 5.96%,#fffc00 7.23%,#fff400 8.51%,#ffec00 10.21%,#ffe500 11.91%,#ffdd00 14.04%,#ffd700 16.17%,#ffd000 18.72%,#ffc900 21.28%,#ffc200 24.26%,#ffbb00 27.66%,#ffb300 31.91%,#ffab00 36.17%,#ffa400 40.43%,#ff9b00 46.81%,#ff9300 53.19%,#ff8b00 59.57%,#ff8500 65.96%,#ff7f00 72.34%,#ff7a00 78.72%,#ff7600 85.11%,#ff7200 91.49%,#ff6e00 97.87%,#ff6d00 100.00%)"></div><div style="height:2px;background:linear-gradient(90deg,#ffffbf 0.00%,#ffffa9 0.21%,#ffff9a 0.43%,#ffff8e 0.64%,#ffff83 0.85%,#ffff79 1.06%,#ffff70 1.28%,#ffff60 1.70%,#ffff53 2.13%,#ffff47 2.55%,#ffff3d 2.98%,#ffff33 3.40%,#ffff24 4.26%,#ffff16 5.11%,#ffff0b 5.96%,#fffd00 7.23%,#fff600 8.51%,#ffed00 10.21%,#ffe600 11.91%,#ffdf00 14.04%,#ffd800 16.17%,#ffd100 18.72%,#ffca00 21.28%,#ffc300 24.26%,#ffbc00 27.66%,#ffb400 31.91%,#ffad00 36.17%,#ffa600 40.43%,#ff9c00 46.81%,#ff9400 53.19%,#ff8d00 59.57%,#ff8600 65.96%,#ff8100 72.34%,#ff7c00 78.72%,#ff7700 85.11%,#ff7300 91.49%,#ff7000 97.87%,#ff6f00 100.00%)"></div><div style="height:2px;background:linear-gradient(90deg,#ffffbf 0.00%,#ffffaa 0.21%,#ffff9b 0.43%,#ffff8e 0.64%,#ffff83 0.85%,#ffff7a 1.06%,#ffff71 1.28%,#ffff61 1.70%,#ffff54 2.13%,#ffff48 2.55%,#ffff3e 2.98%,#ffff35 3.40%,#ffff25 4.26%,#ffff18 5.11%,#ffff0d 5.96%,#ffff00 7.23%,#fff700 8.51%,#ffef00 10.21%,#ffe700 11.91%,#ffe000 14.04%,#ffd900 16.17%,#ffd200 18.72%,#ffcc00 21.28%,#ffc500 24.26%,#ffbe00 27.66%,#ffb500 31.91%,#ffae00 36.17%,#ffa700 40.43%,#ff9e00 46.81%,#ff9500 53.19%,#ff8e00 59.57%,#ff8800 65.96%,#ff8200 72.34%,#ff7d00 78.72%,#ff7900 85.11%,#ff7500 91.49%,#ff7100 97.87%,#ff7000 100.00%)"></div><div style="height:2px;background:linear-gradient(90deg,#ffffbf 0.00%,#ffffaa 0.21%,#ffff9b 0.43%,#ffff8f 0.64%,#ffff84 0.85%,#ffff7b 1.06%,#ffff72 1.28%,#ffff63 1.70%,#ffff55 2.13%,#ffff4a 2.55%,#ffff40 2.98%,#ffff37 3.40%,#ffff27 4.26%,#ffff1a 5.11%,#ffff0f 5.96%,#ffff01 7.23%,#fff800 8.51%,#fff000 10.21%,#ffe900 11.91%,#ffe100 14.04%,#ffda00 16.17%,#ffd300 18.72%,#ffcd00 21.28%,#ffc600 24.26%,#ffbf00 27.66%,#ffb700 31.91%,#ffaf00 36.17%,#ffa800 40.43%,#ff9f00 46.81%,#ff9700 53.19%,#ff9000 59.57%,#ff8900 65.96%,#ff8400 72.34%,#ff7f00 78.72%,#ff7a00 85.11%,#ff7600 91.49%,#ff7300 97.87%,#ff7200 100.00%)"></div><div style="height:2px;background:linear-gradient(90deg,#ffffbf 0.00%,#ffffaa 0.21%,#ffff9c 0.43%,#ffff90 0.64%,#ffff85 0.85%,#ffff7c 1.06%,#ffff73 1.28%,#ffff64 1.70%,#ffff57 2.13%,#ffff4b 2.55%,#ffff41 2.98%,#ffff38 3.40%,#ffff29 4.26%,#ffff1c 5.11%,#ffff11 5.96%,#ffff03 7.23%,#fffa00 8.51%,#fff100 10.21%,#ffea00 11.91%,#ffe200 14.04%,#ffdc00 16.17%,#ffd500 18.72%,#ffce00 21.28%,#ffc700 24.26%,#ffc000 27.66%,#ffb800 31.91%,#ffb000 36.17%,#ffaa00 40.43%,#ffa000 46.81%,#ff9800 53.19%,#ff9100 59.57%,#ff8b00 65.96%,#ff8500 72.34%,#ff8000 78.72%,#ff7c00 85.11%,#ff7800 91.49%,#ff7400 97.87%,#ff7300 100.00%)"></div><div style="height:2px;background:linear-gradient(90deg,#ffffbf 0.00%,#ffffab 0.21%,#ffff9c 0.43%,#ffff90 0.64%,#ffff86 0.85%,#ffff7d 1.06%,#ffff74 1.28%,#ffff65 1.70%,#ffff58 2.13%,#ffff4d 2.55%,#ffff43 2.98%,#ffff3a 3.40%,#ffff2b 4.26%,#ffff1e 5.11%,#ffff13 5.96%,#ffff05 7.23%,#fffb00 8.51%,#fff200 10.21%,#ffeb00 11.91%,#ffe400 14.04%,#ffdd00 16.17%,#ffd600 18.72%,#ffcf00 21.28%,#ffc900 24.26%,#ffc100 27.66%,#ffb900 31.91%,#ffb200 36.17%,#ffab00 40.43%,#ffa200 46.81%,#ff9a00 53.19%,#ff9200 59.57%,#ff8c00 65.96%,#ff8600 72.34%,#ff8100 78.72%,#ff7d00 85.11%,#ff7900 91.49%,#ff7600 97.87%,#ff7500 100.00%)"></div><div style="height:2px;background:linear-gradient(90deg,#ffffbf 0.00%,#ffffab 0.21%,#ffff9d 0.43%,#ffff91 0.64%,#ffff87 0.85%,#ffff7e 1.06%,#ffff75 1.28%,#ffff66 1.70%,#ffff5a 2.13%,#ffff4e 2.55%,#ffff44 2.98%,#ffff3c 3.40%,#ffff2c 4.26%,#ffff20 5.11%,#ffff15 5.96%,#ffff07 7.23%,#fffc00 8.51%,#fff400 10.21%,#ffed00 11.91%,#ffe500 14.04%,#ffde00 16.17%,#ffd700 18.72%,#ffd100 21.28%,#ffca00 24.26%,#ffc300 27.66%,#ffbb00 31.91%,#ffb300 36.17%,#ffac00 40.43%,#ffa300 46.81%,#ff9b00 53.19%,#ff9400 59.57%,#ff8d00 65.96%,#ff8800 72.34%,#ff8300 78.72%,#ff7e00 85.11%,#ff7a00 91.49%,#ff7700 97.87%,#ff7600 100.00%)"></div><div style="height:2px;background:linear-gradient(90deg,#ffffbf 0.00%,#ffffac 0.21%,#ffff9e 0.43%,#ffff93 0.64%,#ffff89 0.85%,#ffff80 1.06%,#ffff77 1.28%,#ffff69 1.70%,#ffff5c 2.13%,#ffff51 2.55%,#ffff47 2.98%,#ffff3e 3.40%,#ffff2f 4.26%,#ffff22 5.11%,#ffff17 5.96%,#ffff09 7.23%,#fffe00 8.51%,#fff500 10.21%,#ffee00 11.91%,#ffe600 14.04%,#ffe000 16.17%,#ffd800 18.72%,#ffd200 21.28%,#ffcb00 24.26%,#ffc400 27.66%,#ffbc00 31.91%,#ffb400 36.17%,#ffae00 40.43%,#ffa400 46.81%,#ff9c00 53.19%,#ff9500 59.57%,#ff8f00 65.96%,#ff8900 72.34%,#ff8400 78.72%,#ff8000 85.11%,#ff7c00 91.49%,#ff7800 97.87%,#ff7700 100.00%)"></div><div style="height:2px;background:linear-gradient(90deg,#ffffbf 0.00%,#ffffad 0.21%,#ffffa0 0.43%,#ffff95 0.64%,#ffff8b 0.85%,#ffff82 1.06%,#ffff7a 1.28%,#ffff6b 1.70%,#ffff5f 2.13%,#ffff54 2.55%,#ffff4a 2.98%,#ffff41 3.40%,#ffff32 4.26%,#ffff25 5.11%,#ffff1a 5.96%,#ffff0c 7.23%,#ffff00 8.51%,#fff700 10.21%,#ffef00 11.91%,#ffe800 14.04%,#ffe100 16.17%,#ffda00 18.72%,#ffd300 21.28%,#ffcc00 24.26%,#ffc500 27.66%,#ffbd00 31.91%,#ffb600 36.17%,#ffaf00 40.43%,#ffa600 46.81%,#ff9d00 53.19%,#ff9600 59.57%,#ff9000 65.96%,#ff8a00 72.34%,#ff8500 78.72%,#ff8100 85.11%,#ff7d00 91.49%,#ff7900 97.87%,#ff7800 100.00%)"></div><div style="height:2px;background:linear-gradient(90deg,#ffffbf 0.00%,#ffffae 0.21%,#ffffa1 0.43%,#ffff96 0.64%,#ffff8d 0.85%,#ffff84 1.06%,#ffff7c 1.28%,#ffff6e 1.70%,#ffff61 2.13%,#ffff56 2.55%,#ffff4c 2.98%,#ffff44 3.40%,#ffff34 4.26%,#ffff27 5.11%,#ffff1c 5.96%,#ffff0e 7.23%,#ffff03 8.51%,#fff800 10.21%,#fff100 11.91%,#ffe900 14.04%,#ffe200 16.17%,#ffdb00 18.72%,#ffd500 21.28%,#ffce00 24.26%,#ffc600 27.66%,#ffbe00 31.91%,#ffb700 36.17%,#ffb000 40.43%,#ffa700 46.81%,#ff9f00 53.19%,#ff9700 59.57%,#ff9100 65.96%,#ff8b00 72.34%,#ff8600 78.72%,#ff8200 85.11%,#ff7e00 91.49%,#ff7b00 97.87%,#ff7a00 100.00%)"></div><div style="height:1px;background:linear-gradient(90deg,#ffffbf 0.00%,#ffffae 0.21%,#ffffa2 0.43%,#ffff98 0.64%,#ffff8e 0.85%,#ffff86 1.06%,#ffff7e 1.28%,#ffff70 1.70%,#ffff63 2.13%,#ffff58 2.55%,#ffff4e 2.98%,#ffff46 3.40%,#ffff36 4.26%,#ffff29 5.11%,#ffff1e 5.96%,#ffff10 7.23%,#ffff04 8.51%,#fff900 10.21%,#fff200 11.91%,#ffea00 14.04%,#ffe300 16.17%,#ffdc00 18.72%,#ffd500 21.28%,#ffcf00 24.26%,#ffc700 27.66%,#ffbf00 31.91%,#ffb800 36.17%,#ffb100 40.43%,#ffa800 46.81%,#ff9f00 53.19%,#ff9800 59.57%,#ff9200 65.96%,#ff8c00 72.34%,#ff8700 78.72%,#ff8300 85.11%,#ff7f00 91.49%,#ff7c00 97.87%,#ff7b00 100.00%)"></div><div style="height:1px;background:linear-gradient(90deg,#ffffbf 0.00%,#ffffaf 0.21%,#ffffa3 0.43%,#ffff98 0.64%,#ffff8f 0.85%,#ffff87 1.06%,#ffff7f 1.28%,#ffff71 1.70%,#ffff64 2.13%,#ffff5a 2.55%,#ffff50 2.98%,#ffff47 3.40%,#ffff38 4.26%,#ffff2b 5.11%,#ffff20 5.96%,#ffff11 7.23%,#ffff06 8.51%,#fffa00 10.21%,#fff300 11.91%,#ffeb00 14.04%,#ffe400 16.17%,#ffdd00 18.72%,#ffd600 21.28%,#ffcf00 24.26%,#ffc800 27.66%,#ffc000 31.91%,#ffb800 36.17%,#ffb100 40.43%,#ffa800 46.81%,#ffa000 53.19%,#ff9900 59.57%,#ff9300 65.96%,#ff8d00 72.34%,#ff8800 78.72%,#ff8400 85.11%,#ff8000 91.49%,#ff7c00 97.87%,#ff7b00 100.00%)"></div><div style="height:1px;background:linear-gradient(90deg,#ffffbf 0.00%,#ffffaf 0.21%,#ffffa3 0.43%,#ffff99 0.64%,#ffff90 0.85%,#ffff88 1.06%,#ffff80 1.28%,#ffff72 1.70%,#ffff66 2.13%,#ffff5b 2.55%,#ffff51 2.98%,#ffff48 3.40%,#ffff39 4.26%,#ffff2c 5.11%,#ffff21 5.96%,#ffff13 7.23%,#ffff07 8.51%,#fffb00 10.21%,#fff300 11.91%,#ffeb00 14.04%,#ffe500 16.17%,#ffdd00 18.72%,#ffd700 21.28%,#ffd000 24.26%,#ffc900 27.66%,#ffc000 31.91%,#ffb900 36.17%,#ffb200 40.43%,#ffa900 46.81%,#ffa100 53.19%,#ff9a00 59.57%,#ff9300 65.96%,#ff8e00 72.34%,#ff8900 78.72%,#ff8400 85.11%,#ff8000 91.49%,#ff7d00 97.87%,#ff7c00 100.00%)"></div><div style="height:1px;background:linear-gradient(90deg,#ffffbf 0.00%,#ffffb0 0.21%,#ffffa4 0.43%,#ffff9a 0.64%,#ffff91 0.85%,#ffff89 1.06%,#ffff81 1.28%,#ffff73 1.70%,#ffff67 2.13%,#ffff5c 2.55%,#ffff52 2.98%,#ffff4a 3.40%,#ffff3a 4.26%,#ffff2d 5.11%,#ffff22 5.96%,#ffff14 7.23%,#ffff08 8.51%,#fffb00 10.21%,#fff400 11.91%,#ffec00 14.04%,#ffe500 16.17%,#ffde00 18.72%,#ffd700 21.28%,#ffd000 24.26%,#ffc900 27.66%,#ffc100 31.91%,#ffb900 36.17%,#ffb300 40.43%,#ffa900 46.81%,#ffa100 53.19%,#ff9a00 59.57%,#ff9400 65.96%,#ff8e00 72.34%,#ff8900 78.72%,#ff8500 85.11%,#ff8100 91.49%,#ff7d00 97.87%,#ff7c00 100.00%)"></div><div style="height:1px;background:linear-gradient(90deg,#ffffbf 0.00%,#ffffb0 0.21%,#ffffa5 0.43%,#ffff9b 0.64%,#ffff92 0.85%,#ffff89 1.06%,#ffff82 1.28%,#ffff74 1.70%,#ffff68 2.13%,#ffff5d 2.55%,#ffff54 2.98%,#ffff4b 3.40%,#ffff3c 4.26%,#ffff2e 5.11%,#ffff23 5.96%,#ffff15 7.23%,#ffff09 8.51%,#fffc00 10.21%,#fff500 11.91%,#ffed00 14.04%,#ffe600 16.17%,#ffde00 18.72%,#ffd800 21.28%,#ffd100 24.26%,#ffca00 27.66%,#ffc200 31.91%,#ffba00 36.17%,#ffb300 40.43%,#ffaa00 46.81%,#ffa200 53.19%,#ff9b00 59.57%,#ff9400 65.96%,#ff8f00 72.34%,#ff8a00 78.72%,#ff8500 85.11%,#ff8100 91.49%,#ff7e00 97.87%,#ff7d00 100.00%)"></div><div style="height:1px;background:linear-gradient(90deg,#ffffbf 0.00%,#ffffb0 0.21%,#ffffa5 0.43%,#ffff9b 0.64%,#ffff93 0.85%,#ffff8a 1.06%,#ffff83 1.28%,#ffff75 1.70%,#ffff69 2.13%,#ffff5f 2.55%,#ffff55 2.98%,#ffff4c 3.40%,#ffff3d 4.26%,#ffff30 5.11%,#ffff25 5.96%,#ffff16 7.23%,#ffff0a 8.51%,#fffd00 10.21%,#fff500 11.91%,#ffed00 14.04%,#ffe600 16.17%,#ffdf00 18.72%,#ffd900 21.28%,#ffd200 24.26%,#ffca00 27.66%,#ffc200 31.91%,#ffbb00 36.17%,#ffb400 40.43%,#ffab00 46.81%,#ffa300 53.19%,#ff9b00 59.57%,#ff9500 65.96%,#ff8f00 72.34%,#ff8a00 78.72%,#ff8600 85.11%,#ff8200 91.49%,#ff7f00 97.87%,#ff7e00 100.00%)"></div></div><div class="bx" style="left:357px;top:89px;width:235px;height:122px"></div><div class="tk" style="left:386px;top:90px;width:1px;height:2px"></div><div class="tk" style="left:386px;top:208px;width:1px;height:2px"></div><div class="tk" style="left:416px;top:90px;width:1px;height:2px"></div><div class="tk" style="left:416px;top:208px;width:1px;height:2px"></div><div class="tk" style="left:445px;top:90px;width:1px;height:2px"></div><div class="tk" style="left:445px;top:208px;width:1px;height:2px"></div><div class="tk" style="left:474px;top:90px;width:1px;height:2px"></div><div class="tk" style="left:474px;top:208px;width:1px;height:2px"></div><div class="tk" style="left:503px;top:90px;width:1px;height:2px"></div><div class="tk" style="left:503px;top:208px;width:1px;height:2px"></div><div class="tk" style="left:532px;top:90px;width:1px;height:2px"></div><div class="tk" style="left:532px;top:208px;width:1px;height:2px"></div><div class="tk" style="left:562px;top:90px;width:1px;height:2px"></div><div class="tk" style="left:562px;top:208px;width:1px;height:2px"></div><div class="tk" style="left:358px;top:113px;width:2px;height:1px"></div><div class="tk" style="left:589px;top:113px;width:2px;height:1px"></div><div class="tk" style="left:358px;top:137px;width:2px;height:1px"></div><div class="tk" style="left:589px;top:137px;width:2px;height:1px"></div><div class="tk" style="left:358px;top:162px;width:2px;height:1px"></div><div class="tk" style="left:589px;top:162px;width:2px;height:1px"></div><div class="tk" style="left:358px;top:186px;width:2px;height:1px"></div><div class="tk" style="left:589px;top:186px;width:2px;height:1px"></div><div class="tl" style="left:414.5px;top:65px;width:120px;text-align:center">Meniscus</div><div class="tl" style="left:337.50px;top:213.0px;width:40px;text-align:center">0</div><div class="tl" style="left:366.75px;top:213.0px;width:40px;text-align:center">6</div><div class="tl" style="left:396.00px;top:213.0px;width:40px;text-align:center">12</div><div class="tl" style="left:425.25px;top:213.0px;width:40px;text-align:center">18</div><div class="tl" style="left:454.50px;top:213.0px;width:40px;text-align:center">24</div><div class="tl" style="left:483.75px;top:213.0px;width:40px;text-align:center">30</div><div class="tl" style="left:513.00px;top:213.0px;width:40px;text-align:center">36</div><div class="tl" style="left:542.25px;top:213.0px;width:40px;text-align:center">42</div><div class="tl" style="left:571.50px;top:213.0px;width:40px;text-align:center">48</div><div class="tl" style="left:315.70px;top:79.50px;width:40px;text-align:right">0</div><div class="tl" style="left:315.70px;top:103.70px;width:40px;text-align:right">0.2</div><div class="tl" style="left:315.70px;top:127.90px;width:40px;text-align:right">0.4</div><div class="tl" style="left:315.70px;top:152.10px;width:40px;text-align:right">0.6</div><div class="tl" style="left:315.70px;top:176.30px;width:40px;text-align:right">0.8</div><div class="tl" style="left:315.70px;top:200.50px;width:40px;text-align:right">1</div><div class="tl" style="left:414.5px;top:231.5px;width:120px;text-align:center">Time (h)</div><div class="tl ylab" style="left:251.80px;top:141px;width:132px;text-align:center">Relative thickness</div>
</body></html>
